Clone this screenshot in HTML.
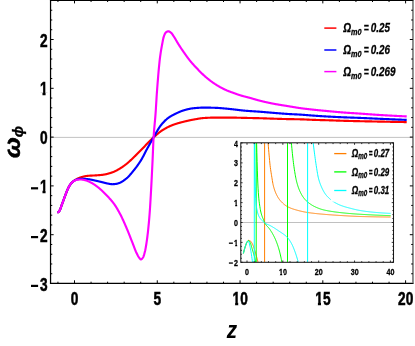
<!DOCTYPE html><html><head><meta charset="utf-8"><style>html,body{margin:0;padding:0;background:#fff}</style></head><body><svg width="415" height="346" viewBox="0 0 415 346" style="display:block;will-change:transform;font-family:'Liberation Sans',sans-serif">
<rect width="415" height="346" fill="#fff"/>
<line x1="50.55" x2="412.90" y1="137.4" y2="137.4" stroke="#b4b4b4" stroke-width="0.8"/>
<defs><clipPath id="cm"><rect x="50.55" y="0.30" width="362.35" height="283.10"/></clipPath><clipPath id="ci"><rect x="240.8" y="143" width="152.7" height="119.3"/></clipPath></defs>
<g clip-path="url(#cm)" fill="none" stroke-width="2.15" stroke-linejoin="round" stroke-linecap="butt">
<path d="M57.50,212.40L57.75,212.35L58.00,212.25L58.25,212.09L58.50,211.89L58.75,211.66L59.00,211.41L59.25,211.14L59.50,210.80L59.75,210.36L60.00,209.83L60.25,209.23L60.50,208.57L60.75,207.87L61.00,207.15L61.25,206.41L61.50,205.67L61.75,204.95L62.00,204.26L62.25,203.60L62.50,202.94L62.75,202.26L63.00,201.57L63.25,200.88L63.50,200.19L63.75,199.49L64.00,198.80L64.25,198.11L64.50,197.42L64.75,196.75L65.00,196.09L65.25,195.43L65.50,194.76L65.75,194.09L66.00,193.42L66.26,192.76L66.51,192.10L66.76,191.46L67.01,190.83L67.26,190.23L67.51,189.65L67.76,189.10L68.01,188.58L68.26,188.08L68.51,187.58L68.76,187.10L69.01,186.63L69.26,186.17L69.51,185.73L69.76,185.31L70.01,184.91L70.26,184.53L70.51,184.18L70.76,183.85L71.01,183.55L71.26,183.26L71.51,182.98L71.76,182.71L72.01,182.46L72.26,182.22L72.51,181.98L72.76,181.76L73.01,181.55L73.26,181.34L73.51,181.15L73.76,180.96L74.01,180.77L74.26,180.59L74.51,180.42L74.76,180.25L75.01,180.09L75.26,179.93L75.51,179.78L75.76,179.63L76.01,179.48L76.26,179.34L76.51,179.21L76.76,179.07L77.01,178.95L77.26,178.82L77.51,178.70L77.76,178.57L78.01,178.45L78.26,178.33L78.51,178.22L78.76,178.10L79.01,177.99L79.26,177.89L79.51,177.78L79.76,177.69L80.01,177.59L80.26,177.50L80.51,177.42L80.76,177.34L81.01,177.27L81.26,177.20L81.51,177.13L81.76,177.06L82.01,176.99L82.26,176.92L82.51,176.85L82.76,176.79L83.01,176.72L83.26,176.66L83.51,176.60L83.77,176.54L84.02,176.48L84.27,176.42L84.52,176.37L84.77,176.31L85.02,176.26L85.27,176.21L85.52,176.16L85.77,176.12L86.02,176.07L86.27,176.03L86.52,175.99L86.77,175.95L87.02,175.92L87.27,175.89L87.52,175.86L87.77,175.83L88.02,175.81L88.27,175.79L88.52,175.77L88.77,175.75L89.02,175.73L89.27,175.71L89.52,175.70L89.77,175.68L90.02,175.67L90.27,175.65L90.52,175.64L90.77,175.63L91.02,175.61L91.27,175.60L91.52,175.59L91.77,175.58L92.02,175.57L92.27,175.56L92.52,175.55L92.77,175.54L93.02,175.53L93.27,175.51L93.52,175.50L93.77,175.49L94.02,175.48L94.27,175.47L94.52,175.45L94.77,175.44L95.02,175.42L95.27,175.41L95.52,175.39L95.77,175.38L96.02,175.36L96.27,175.34L96.52,175.33L96.77,175.31L97.02,175.29L97.27,175.28L97.52,175.26L97.77,175.24L98.02,175.22L98.27,175.21L98.52,175.19L98.77,175.17L99.02,175.15L99.27,175.13L99.52,175.11L99.77,175.09L100.02,175.07L100.27,175.04L100.52,175.02L100.77,175.00L101.02,174.97L101.28,174.95L101.53,174.92L101.78,174.90L102.03,174.87L102.28,174.84L102.53,174.81L102.78,174.78L103.03,174.74L103.28,174.71L103.53,174.67L103.78,174.63L104.03,174.59L104.28,174.55L104.53,174.50L104.78,174.46L105.03,174.41L105.28,174.36L105.53,174.30L105.78,174.25L106.03,174.19L106.28,174.13L106.53,174.08L106.78,174.02L107.03,173.95L107.28,173.89L107.53,173.82L107.78,173.76L108.03,173.69L108.28,173.62L108.53,173.55L108.78,173.48L109.03,173.41L109.28,173.33L109.53,173.26L109.78,173.18L110.03,173.10L110.28,173.03L110.53,172.95L110.78,172.87L111.03,172.79L111.28,172.71L111.53,172.62L111.78,172.54L112.03,172.46L112.28,172.37L112.53,172.29L112.78,172.19L113.03,172.10L113.28,172.00L113.53,171.90L113.78,171.80L114.03,171.69L114.28,171.58L114.53,171.46L114.78,171.35L115.03,171.23L115.28,171.11L115.53,170.98L115.78,170.86L116.03,170.73L116.28,170.60L116.53,170.47L116.78,170.33L117.03,170.20L117.28,170.06L117.53,169.92L117.78,169.78L118.03,169.64L118.28,169.50L118.53,169.36L118.79,169.21L119.04,169.07L119.29,168.92L119.54,168.78L119.79,168.63L120.04,168.48L120.29,168.33L120.54,168.17L120.79,168.01L121.04,167.85L121.29,167.69L121.54,167.53L121.79,167.36L122.04,167.19L122.29,167.01L122.54,166.84L122.79,166.66L123.04,166.49L123.29,166.31L123.54,166.12L123.79,165.94L124.04,165.75L124.29,165.57L124.54,165.38L124.79,165.19L125.04,165.00L125.29,164.81L125.54,164.61L125.79,164.42L126.04,164.22L126.29,164.02L126.54,163.83L126.79,163.63L127.04,163.43L127.29,163.22L127.54,163.02L127.79,162.81L128.04,162.60L128.29,162.38L128.54,162.17L128.79,161.95L129.04,161.73L129.29,161.50L129.54,161.28L129.79,161.05L130.04,160.83L130.29,160.60L130.54,160.37L130.79,160.14L131.04,159.90L131.29,159.67L131.54,159.43L131.79,159.20L132.04,158.96L132.29,158.73L132.54,158.49L132.79,158.25L133.04,158.01L133.29,157.78L133.54,157.54L133.79,157.30L134.04,157.06L134.29,156.82L134.54,156.58L134.79,156.34L135.04,156.10L135.29,155.85L135.54,155.61L135.79,155.36L136.04,155.11L136.30,154.86L136.55,154.61L136.80,154.36L137.05,154.11L137.30,153.86L137.55,153.61L137.80,153.35L138.05,153.10L138.30,152.85L138.55,152.59L138.80,152.34L139.05,152.08L139.30,151.83L139.55,151.57L139.80,151.32L140.05,151.06L140.30,150.81L140.55,150.56L140.80,150.30L141.05,150.05L141.30,149.80L141.55,149.55L141.80,149.29L142.05,149.04L142.30,148.78L142.55,148.52L142.80,148.26L143.05,148.00L143.30,147.74L143.55,147.48L143.80,147.21L144.05,146.95L144.30,146.69L144.55,146.42L144.80,146.16L145.05,145.89L145.30,145.63L145.55,145.37L145.80,145.10L146.05,144.84L146.30,144.57L146.55,144.31L146.80,144.04L147.05,143.78L147.30,143.52L147.55,143.25L147.80,142.99L148.05,142.73L148.30,142.47L148.55,142.21L148.80,141.95L149.05,141.70L149.30,141.44L149.55,141.19L149.80,140.93L150.05,140.68L150.30,140.43L150.55,140.18L150.80,139.93L151.05,139.69L151.30,139.44L151.55,139.20L151.80,138.96L152.05,138.72L152.30,138.49L152.55,138.25L152.80,138.02L153.05,137.79L153.30,137.56L153.56,137.34L153.81,137.12L154.06,136.90L154.31,136.67L154.56,136.45L154.81,136.23L155.06,136.01L155.31,135.79L155.56,135.57L155.81,135.35L156.06,135.13L156.31,134.91L156.56,134.70L156.81,134.48L157.06,134.27L157.31,134.06L157.56,133.85L157.81,133.64L158.06,133.43L158.31,133.23L158.56,133.03L158.81,132.82L159.06,132.63L159.31,132.43L159.56,132.23L159.81,132.04L160.06,131.85L160.31,131.67L160.56,131.48L160.81,131.30L161.06,131.12L161.31,130.95L161.56,130.78L161.81,130.61L162.06,130.44L162.31,130.28L162.56,130.12L162.81,129.97L163.06,129.82L163.31,129.66L163.56,129.51L163.81,129.36L164.06,129.21L164.31,129.07L164.56,128.92L164.81,128.78L165.06,128.63L165.31,128.49L165.56,128.35L165.81,128.21L166.06,128.07L166.31,127.94L166.56,127.80L166.81,127.67L167.06,127.54L167.31,127.41L167.56,127.28L167.81,127.15L168.06,127.03L168.31,126.90L168.56,126.78L168.81,126.66L169.06,126.54L169.31,126.43L169.56,126.31L169.81,126.20L170.06,126.08L170.31,125.97L170.56,125.86L170.81,125.75L171.07,125.65L171.32,125.54L171.57,125.44L171.82,125.34L172.07,125.24L172.32,125.15L172.57,125.05L172.82,124.96L173.07,124.86L173.32,124.77L173.57,124.68L173.82,124.59L174.07,124.51L174.32,124.42L174.57,124.33L174.82,124.25L175.07,124.16L175.32,124.08L175.57,124.00L175.82,123.92L176.07,123.84L176.32,123.76L176.57,123.68L176.82,123.60L177.07,123.52L177.32,123.45L177.57,123.37L177.82,123.30L178.07,123.22L178.32,123.15L178.57,123.08L178.82,123.01L179.07,122.94L179.32,122.87L179.57,122.80L179.82,122.73L180.07,122.66L180.32,122.59L180.57,122.52L180.82,122.46L181.07,122.39L181.32,122.32L181.57,122.26L181.82,122.19L182.07,122.13L182.32,122.07L182.57,122.00L182.82,121.94L183.07,121.88L183.32,121.81L183.57,121.75L183.82,121.69L184.07,121.63L184.32,121.57L184.57,121.50L184.82,121.44L185.07,121.38L185.32,121.32L185.57,121.26L185.82,121.20L186.07,121.14L186.32,121.08L186.57,121.02L186.82,120.97L187.07,120.91L187.32,120.85L187.57,120.79L187.82,120.74L188.07,120.68L188.32,120.62L188.58,120.57L188.83,120.51L189.08,120.46L189.33,120.40L189.58,120.35L189.83,120.30L190.08,120.24L190.33,120.19L190.58,120.14L190.83,120.09L191.08,120.04L191.33,119.99L191.58,119.93L191.83,119.89L192.08,119.84L192.33,119.79L192.58,119.74L192.83,119.69L193.08,119.64L193.33,119.60L193.58,119.55L193.83,119.51L194.08,119.46L194.33,119.42L194.58,119.37L194.83,119.33L195.08,119.29L195.33,119.24L195.58,119.20L195.83,119.16L196.08,119.11L196.33,119.07L196.58,119.02L196.83,118.98L197.08,118.94L197.33,118.89L197.58,118.85L197.83,118.80L198.08,118.76L198.33,118.72L198.58,118.68L198.83,118.63L199.08,118.59L199.33,118.55L199.58,118.51L199.83,118.47L200.08,118.43L200.33,118.40L200.58,118.36L200.83,118.33L201.08,118.29L201.33,118.26L201.58,118.23L201.83,118.20L202.08,118.17L202.33,118.14L202.58,118.11L202.83,118.09L203.08,118.07L203.33,118.05L203.58,118.03L203.83,118.01L204.08,118.00L204.33,117.98L204.58,117.97L204.83,117.95L205.08,117.94L205.33,117.92L205.58,117.91L205.83,117.89L206.09,117.88L206.34,117.87L206.59,117.85L206.84,117.84L207.09,117.83L207.34,117.82L207.59,117.80L207.84,117.79L208.09,117.78L208.34,117.77L208.59,117.76L208.84,117.75L209.09,117.74L209.34,117.73L209.59,117.72L209.84,117.71L210.09,117.70L210.34,117.69L210.59,117.68L210.84,117.67L211.09,117.66L211.34,117.66L211.59,117.65L211.84,117.64L212.09,117.64L212.34,117.63L212.59,117.62L212.84,117.62L213.09,117.62L213.34,117.61L213.59,117.61L213.84,117.61L214.09,117.60L214.34,117.60L214.59,117.60L214.84,117.60L215.09,117.60L215.34,117.60L215.59,117.60L215.84,117.60L216.09,117.60L216.34,117.60L216.59,117.60L216.84,117.60L217.09,117.60L217.34,117.60L217.59,117.60L217.84,117.60L218.09,117.60L218.34,117.60L218.59,117.60L218.84,117.60L219.09,117.60L219.34,117.60L219.59,117.60L219.84,117.60L220.09,117.60L220.34,117.60L220.59,117.60L220.84,117.60L221.09,117.60L221.34,117.60L221.59,117.60L221.84,117.60L222.09,117.60L222.34,117.60L222.59,117.60L222.84,117.60L223.09,117.60L223.34,117.60L223.60,117.60L223.85,117.60L224.10,117.60L224.35,117.60L224.60,117.60L224.85,117.60L225.10,117.60L225.35,117.60L225.60,117.60L225.85,117.60L226.10,117.60L226.35,117.60L226.60,117.60L226.85,117.60L227.10,117.60L227.35,117.60L227.60,117.60L227.85,117.60L228.10,117.60L228.35,117.60L228.60,117.60L228.85,117.60L229.10,117.60L229.35,117.60L229.60,117.60L229.85,117.60L230.10,117.60L230.35,117.60L230.60,117.60L230.85,117.60L231.10,117.60L231.35,117.60L231.60,117.61L231.85,117.61L232.10,117.61L232.35,117.61L232.60,117.62L232.85,117.62L233.10,117.62L233.35,117.63L233.60,117.63L233.85,117.63L234.10,117.64L234.35,117.64L234.60,117.65L234.85,117.65L235.10,117.66L235.35,117.66L235.60,117.67L235.85,117.67L236.10,117.68L236.35,117.68L236.60,117.69L236.85,117.70L237.10,117.70L237.35,117.71L237.60,117.71L237.85,117.72L238.10,117.73L238.35,117.73L238.60,117.74L238.85,117.75L239.10,117.75L239.35,117.76L239.60,117.77L239.85,117.77L240.10,117.78L240.35,117.79L240.60,117.79L240.86,117.80L241.11,117.81L241.36,117.81L241.61,117.82L241.86,117.83L242.11,117.83L242.36,117.84L242.61,117.85L242.86,117.85L243.11,117.86L243.36,117.86L243.61,117.87L243.86,117.88L244.11,117.88L244.36,117.89L244.61,117.89L244.86,117.90L245.11,117.90L245.36,117.91L245.61,117.91L245.86,117.92L246.11,117.92L246.36,117.93L246.61,117.93L246.86,117.94L247.11,117.94L247.36,117.95L247.61,117.95L247.86,117.96L248.11,117.96L248.36,117.97L248.61,117.97L248.86,117.98L249.11,117.98L249.36,117.98L249.61,117.99L249.86,117.99L250.11,118.00L250.36,118.00L250.61,118.01L250.86,118.01L251.11,118.02L251.36,118.02L251.61,118.03L251.86,118.03L252.11,118.04L252.36,118.04L252.61,118.05L252.86,118.05L253.11,118.06L253.36,118.06L253.61,118.07L253.86,118.07L254.11,118.08L254.36,118.08L254.61,118.09L254.86,118.09L255.11,118.10L255.36,118.10L255.61,118.11L255.86,118.11L256.11,118.12L256.36,118.12L256.61,118.13L256.86,118.14L257.11,118.14L257.36,118.15L257.61,118.15L257.86,118.16L258.11,118.17L258.37,118.17L258.62,118.18L258.87,118.18L259.12,118.19L259.37,118.20L259.62,118.20L259.87,118.21L260.12,118.22L260.37,118.22L260.62,118.23L260.87,118.24L261.12,118.25L261.37,118.25L261.62,118.26L261.87,118.27L262.12,118.28L262.37,118.29L262.62,118.29L262.87,118.30L263.12,118.31L263.37,118.32L263.62,118.33L263.87,118.34L264.12,118.35L264.37,118.35L264.62,118.36L264.87,118.37L265.12,118.38L265.37,118.39L265.62,118.40L265.87,118.41L266.12,118.42L266.37,118.43L266.62,118.44L266.87,118.45L267.12,118.46L267.37,118.47L267.62,118.48L267.87,118.49L268.12,118.50L268.37,118.50L268.62,118.51L268.87,118.52L269.12,118.53L269.37,118.54L269.62,118.55L269.87,118.56L270.12,118.57L270.37,118.58L270.62,118.59L270.87,118.60L271.12,118.61L271.37,118.62L271.62,118.62L271.87,118.63L272.12,118.64L272.37,118.65L272.62,118.66L272.87,118.67L273.12,118.68L273.37,118.68L273.62,118.69L273.87,118.70L274.12,118.71L274.37,118.71L274.62,118.72L274.87,118.73L275.12,118.74L275.37,118.75L275.62,118.75L275.88,118.76L276.13,118.77L276.38,118.78L276.63,118.78L276.88,118.79L277.13,118.80L277.38,118.81L277.63,118.81L277.88,118.82L278.13,118.83L278.38,118.84L278.63,118.84L278.88,118.85L279.13,118.86L279.38,118.87L279.63,118.87L279.88,118.88L280.13,118.89L280.38,118.90L280.63,118.90L280.88,118.91L281.13,118.92L281.38,118.92L281.63,118.93L281.88,118.94L282.13,118.95L282.38,118.95L282.63,118.96L282.88,118.97L283.13,118.97L283.38,118.98L283.63,118.99L283.88,118.99L284.13,119.00L284.38,119.01L284.63,119.01L284.88,119.02L285.13,119.02L285.38,119.03L285.63,119.04L285.88,119.04L286.13,119.05L286.38,119.05L286.63,119.06L286.88,119.07L287.13,119.07L287.38,119.08L287.63,119.08L287.88,119.09L288.13,119.09L288.38,119.10L288.63,119.10L288.88,119.11L289.13,119.11L289.38,119.12L289.63,119.12L289.88,119.13L290.13,119.13L290.38,119.14L290.63,119.14L290.88,119.15L291.13,119.15L291.38,119.15L291.63,119.16L291.88,119.16L292.13,119.17L292.38,119.17L292.63,119.17L292.88,119.18L293.13,119.18L293.39,119.18L293.64,119.19L293.89,119.19L294.14,119.19L294.39,119.20L294.64,119.20L294.89,119.21L295.14,119.21L295.39,119.21L295.64,119.22L295.89,119.22L296.14,119.23L296.39,119.23L296.64,119.23L296.89,119.24L297.14,119.24L297.39,119.25L297.64,119.25L297.89,119.26L298.14,119.26L298.39,119.26L298.64,119.27L298.89,119.28L299.14,119.28L299.39,119.29L299.64,119.29L299.89,119.30L300.14,119.30L300.39,119.31L300.64,119.32L300.89,119.32L301.14,119.33L301.39,119.34L301.64,119.35L301.89,119.36L302.14,119.36L302.39,119.37L302.64,119.38L302.89,119.39L303.14,119.40L303.39,119.41L303.64,119.42L303.89,119.43L304.14,119.44L304.39,119.45L304.64,119.46L304.89,119.47L305.14,119.49L305.39,119.50L305.64,119.51L305.89,119.52L306.14,119.53L306.39,119.54L306.64,119.55L306.89,119.57L307.14,119.58L307.39,119.59L307.64,119.60L307.89,119.61L308.14,119.63L308.39,119.64L308.64,119.65L308.89,119.66L309.14,119.67L309.39,119.69L309.64,119.70L309.89,119.71L310.14,119.72L310.39,119.73L310.64,119.74L310.90,119.76L311.15,119.77L311.40,119.78L311.65,119.79L311.90,119.80L312.15,119.81L312.40,119.82L312.65,119.83L312.90,119.84L313.15,119.85L313.40,119.86L313.65,119.87L313.90,119.88L314.15,119.89L314.40,119.90L314.65,119.90L314.90,119.91L315.15,119.92L315.40,119.93L315.65,119.94L315.90,119.94L316.15,119.95L316.40,119.96L316.65,119.97L316.90,119.97L317.15,119.98L317.40,119.99L317.65,120.00L317.90,120.00L318.15,120.01L318.40,120.02L318.65,120.02L318.90,120.03L319.15,120.04L319.40,120.04L319.65,120.05L319.90,120.06L320.15,120.06L320.40,120.07L320.65,120.08L320.90,120.08L321.15,120.09L321.40,120.10L321.65,120.10L321.90,120.11L322.15,120.12L322.40,120.12L322.65,120.13L322.90,120.14L323.15,120.14L323.40,120.15L323.65,120.15L323.90,120.16L324.15,120.17L324.40,120.17L324.65,120.18L324.90,120.19L325.15,120.19L325.40,120.20L325.65,120.21L325.90,120.21L326.15,120.22L326.40,120.23L326.65,120.23L326.90,120.24L327.15,120.25L327.40,120.26L327.65,120.26L327.90,120.27L328.16,120.28L328.41,120.28L328.66,120.29L328.91,120.30L329.16,120.31L329.41,120.32L329.66,120.32L329.91,120.33L330.16,120.34L330.41,120.35L330.66,120.36L330.91,120.37L331.16,120.37L331.41,120.38L331.66,120.39L331.91,120.40L332.16,120.41L332.41,120.42L332.66,120.43L332.91,120.44L333.16,120.44L333.41,120.45L333.66,120.46L333.91,120.47L334.16,120.48L334.41,120.49L334.66,120.50L334.91,120.51L335.16,120.52L335.41,120.53L335.66,120.54L335.91,120.55L336.16,120.55L336.41,120.56L336.66,120.57L336.91,120.58L337.16,120.59L337.41,120.60L337.66,120.61L337.91,120.62L338.16,120.63L338.41,120.64L338.66,120.65L338.91,120.65L339.16,120.66L339.41,120.67L339.66,120.68L339.91,120.69L340.16,120.70L340.41,120.71L340.66,120.71L340.91,120.72L341.16,120.73L341.41,120.74L341.66,120.75L341.91,120.76L342.16,120.76L342.41,120.77L342.66,120.78L342.91,120.79L343.16,120.79L343.41,120.80L343.66,120.81L343.91,120.81L344.16,120.82L344.41,120.83L344.66,120.84L344.91,120.84L345.16,120.85L345.41,120.86L345.67,120.86L345.92,120.87L346.17,120.88L346.42,120.88L346.67,120.89L346.92,120.90L347.17,120.90L347.42,120.91L347.67,120.91L347.92,120.92L348.17,120.93L348.42,120.93L348.67,120.94L348.92,120.95L349.17,120.95L349.42,120.96L349.67,120.96L349.92,120.97L350.17,120.98L350.42,120.98L350.67,120.99L350.92,121.00L351.17,121.00L351.42,121.01L351.67,121.01L351.92,121.02L352.17,121.02L352.42,121.03L352.67,121.04L352.92,121.04L353.17,121.05L353.42,121.05L353.67,121.06L353.92,121.06L354.17,121.07L354.42,121.08L354.67,121.08L354.92,121.09L355.17,121.09L355.42,121.10L355.67,121.10L355.92,121.11L356.17,121.12L356.42,121.12L356.67,121.13L356.92,121.13L357.17,121.14L357.42,121.14L357.67,121.15L357.92,121.15L358.17,121.16L358.42,121.17L358.67,121.17L358.92,121.18L359.17,121.18L359.42,121.19L359.67,121.19L359.92,121.20L360.17,121.20L360.42,121.21L360.67,121.21L360.92,121.22L361.17,121.23L361.42,121.23L361.67,121.24L361.92,121.24L362.17,121.25L362.42,121.25L362.67,121.26L362.92,121.26L363.18,121.27L363.43,121.27L363.68,121.28L363.93,121.28L364.18,121.29L364.43,121.29L364.68,121.30L364.93,121.30L365.18,121.31L365.43,121.31L365.68,121.32L365.93,121.32L366.18,121.33L366.43,121.34L366.68,121.34L366.93,121.35L367.18,121.35L367.43,121.36L367.68,121.36L367.93,121.37L368.18,121.37L368.43,121.38L368.68,121.38L368.93,121.39L369.18,121.39L369.43,121.40L369.68,121.40L369.93,121.40L370.18,121.41L370.43,121.41L370.68,121.42L370.93,121.42L371.18,121.43L371.43,121.43L371.68,121.44L371.93,121.44L372.18,121.45L372.43,121.45L372.68,121.46L372.93,121.46L373.18,121.47L373.43,121.47L373.68,121.48L373.93,121.48L374.18,121.49L374.43,121.49L374.68,121.50L374.93,121.50L375.18,121.51L375.43,121.51L375.68,121.52L375.93,121.52L376.18,121.53L376.43,121.53L376.68,121.54L376.93,121.54L377.18,121.55L377.43,121.55L377.68,121.56L377.93,121.56L378.18,121.56L378.43,121.57L378.68,121.57L378.93,121.58L379.18,121.58L379.43,121.59L379.68,121.59L379.93,121.60L380.18,121.60L380.43,121.61L380.69,121.61L380.94,121.62L381.19,121.62L381.44,121.63L381.69,121.63L381.94,121.64L382.19,121.64L382.44,121.65L382.69,121.65L382.94,121.66L383.19,121.66L383.44,121.67L383.69,121.67L383.94,121.68L384.19,121.68L384.44,121.69L384.69,121.69L384.94,121.70L385.19,121.70L385.44,121.70L385.69,121.71L385.94,121.71L386.19,121.72L386.44,121.72L386.69,121.73L386.94,121.73L387.19,121.74L387.44,121.74L387.69,121.75L387.94,121.75L388.19,121.76L388.44,121.76L388.69,121.77L388.94,121.77L389.19,121.78L389.44,121.78L389.69,121.79L389.94,121.79L390.19,121.80L390.44,121.80L390.69,121.80L390.94,121.81L391.19,121.81L391.44,121.82L391.69,121.82L391.94,121.83L392.19,121.83L392.44,121.84L392.69,121.84L392.94,121.85L393.19,121.85L393.44,121.86L393.69,121.86L393.94,121.87L394.19,121.87L394.44,121.88L394.69,121.88L394.94,121.88L395.19,121.89L395.44,121.89L395.69,121.90L395.94,121.90L396.19,121.91L396.44,121.91L396.69,121.92L396.94,121.92L397.19,121.93L397.44,121.93L397.69,121.94L397.94,121.94L398.20,121.94L398.45,121.95L398.70,121.95L398.95,121.96L399.20,121.96L399.45,121.97L399.70,121.97L399.95,121.98L400.20,121.98L400.45,121.99L400.70,121.99L400.95,122.00L401.20,122.00L401.45,122.00L401.70,122.01L401.95,122.01L402.20,122.02L402.45,122.02L402.70,122.03L402.95,122.03L403.20,122.04L403.45,122.04L403.70,122.05L403.95,122.05L404.20,122.05L404.45,122.06L404.70,122.06L404.95,122.07L405.20,122.07L405.45,122.08L405.70,122.08L405.95,122.09L406.20,122.09L406.45,122.10L406.70,122.10" stroke="#f00"/>
<path d="M57.50,212.40L57.75,212.35L58.00,212.25L58.25,212.09L58.50,211.89L58.75,211.66L59.00,211.41L59.25,211.14L59.50,210.80L59.75,210.36L60.00,209.83L60.25,209.23L60.50,208.57L60.75,207.87L61.00,207.15L61.25,206.41L61.50,205.67L61.75,204.95L62.00,204.26L62.25,203.60L62.50,202.94L62.75,202.26L63.00,201.57L63.25,200.88L63.50,200.19L63.75,199.49L64.00,198.80L64.25,198.11L64.50,197.42L64.75,196.75L65.00,196.09L65.25,195.43L65.50,194.76L65.75,194.09L66.00,193.42L66.26,192.76L66.51,192.10L66.76,191.46L67.01,190.83L67.26,190.23L67.51,189.65L67.76,189.10L68.01,188.58L68.26,188.08L68.51,187.58L68.76,187.09L69.01,186.62L69.26,186.16L69.51,185.72L69.76,185.30L70.01,184.90L70.26,184.52L70.51,184.17L70.76,183.85L71.01,183.55L71.26,183.27L71.51,182.99L71.76,182.73L72.01,182.48L72.26,182.24L72.51,182.02L72.76,181.80L73.01,181.60L73.26,181.41L73.51,181.23L73.76,181.06L74.01,180.90L74.26,180.74L74.51,180.58L74.76,180.43L75.01,180.29L75.26,180.15L75.51,180.01L75.76,179.88L76.01,179.77L76.26,179.65L76.51,179.55L76.76,179.46L77.01,179.38L77.26,179.31L77.51,179.25L77.76,179.19L78.01,179.12L78.26,179.07L78.51,179.01L78.76,178.95L79.01,178.90L79.26,178.86L79.51,178.82L79.76,178.78L80.01,178.75L80.26,178.73L80.51,178.71L80.76,178.70L81.01,178.70L81.26,178.70L81.51,178.71L81.76,178.71L82.01,178.72L82.26,178.73L82.51,178.74L82.76,178.75L83.01,178.76L83.26,178.77L83.51,178.79L83.77,178.80L84.02,178.82L84.27,178.84L84.52,178.86L84.77,178.88L85.02,178.90L85.27,178.92L85.52,178.94L85.77,178.97L86.02,178.99L86.27,179.02L86.52,179.04L86.77,179.06L87.02,179.09L87.27,179.12L87.52,179.14L87.77,179.17L88.02,179.19L88.27,179.22L88.52,179.25L88.77,179.28L89.02,179.31L89.27,179.35L89.52,179.38L89.77,179.42L90.02,179.47L90.27,179.51L90.52,179.56L90.77,179.60L91.02,179.65L91.27,179.70L91.52,179.75L91.77,179.80L92.02,179.86L92.27,179.91L92.52,179.96L92.77,180.02L93.02,180.08L93.27,180.13L93.52,180.19L93.77,180.24L94.02,180.30L94.27,180.35L94.52,180.41L94.77,180.46L95.02,180.52L95.27,180.57L95.52,180.63L95.77,180.68L96.02,180.73L96.27,180.79L96.52,180.85L96.77,180.90L97.02,180.96L97.27,181.02L97.52,181.07L97.77,181.13L98.02,181.19L98.27,181.25L98.52,181.31L98.77,181.37L99.02,181.43L99.27,181.49L99.52,181.55L99.77,181.61L100.02,181.67L100.27,181.74L100.52,181.80L100.77,181.86L101.02,181.92L101.28,181.98L101.53,182.04L101.78,182.10L102.03,182.16L102.28,182.22L102.53,182.28L102.78,182.34L103.03,182.40L103.28,182.47L103.53,182.53L103.78,182.59L104.03,182.66L104.28,182.72L104.53,182.79L104.78,182.86L105.03,182.92L105.28,182.99L105.53,183.05L105.78,183.11L106.03,183.17L106.28,183.24L106.53,183.29L106.78,183.35L107.03,183.41L107.28,183.46L107.53,183.51L107.78,183.56L108.03,183.61L108.28,183.65L108.53,183.70L108.78,183.75L109.03,183.79L109.28,183.84L109.53,183.89L109.78,183.94L110.03,183.98L110.28,184.02L110.53,184.06L110.78,184.10L111.03,184.13L111.28,184.15L111.53,184.18L111.78,184.19L112.03,184.20L112.28,184.20L112.53,184.20L112.78,184.19L113.03,184.18L113.28,184.17L113.53,184.15L113.78,184.14L114.03,184.12L114.28,184.09L114.53,184.07L114.78,184.04L115.03,184.02L115.28,183.99L115.53,183.96L115.78,183.93L116.03,183.90L116.28,183.86L116.53,183.82L116.78,183.76L117.03,183.71L117.28,183.64L117.53,183.58L117.78,183.50L118.03,183.42L118.28,183.34L118.53,183.25L118.79,183.17L119.04,183.07L119.29,182.98L119.54,182.89L119.79,182.79L120.04,182.68L120.29,182.57L120.54,182.45L120.79,182.33L121.04,182.20L121.29,182.07L121.54,181.93L121.79,181.78L122.04,181.63L122.29,181.48L122.54,181.32L122.79,181.16L123.04,180.99L123.29,180.82L123.54,180.65L123.79,180.47L124.04,180.29L124.29,180.10L124.54,179.91L124.79,179.72L125.04,179.53L125.29,179.34L125.54,179.14L125.79,178.94L126.04,178.74L126.29,178.54L126.54,178.33L126.79,178.13L127.04,177.91L127.29,177.69L127.54,177.47L127.79,177.23L128.04,176.99L128.29,176.75L128.54,176.49L128.79,176.24L129.04,175.97L129.29,175.70L129.54,175.43L129.79,175.15L130.04,174.87L130.29,174.59L130.54,174.30L130.79,174.00L131.04,173.71L131.29,173.41L131.54,173.11L131.79,172.80L132.04,172.50L132.29,172.19L132.54,171.88L132.79,171.57L133.04,171.26L133.29,170.95L133.54,170.64L133.79,170.33L134.04,170.02L134.29,169.71L134.54,169.39L134.79,169.08L135.04,168.76L135.29,168.44L135.54,168.11L135.79,167.79L136.04,167.46L136.30,167.13L136.55,166.79L136.80,166.45L137.05,166.11L137.30,165.77L137.55,165.42L137.80,165.07L138.05,164.72L138.30,164.36L138.55,164.00L138.80,163.64L139.05,163.27L139.30,162.90L139.55,162.52L139.80,162.14L140.05,161.76L140.30,161.37L140.55,160.98L140.80,160.58L141.05,160.18L141.30,159.78L141.55,159.36L141.80,158.93L142.05,158.49L142.30,158.04L142.55,157.58L142.80,157.11L143.05,156.64L143.30,156.16L143.55,155.68L143.80,155.20L144.05,154.71L144.30,154.22L144.55,153.73L144.80,153.24L145.05,152.75L145.30,152.26L145.55,151.77L145.80,151.29L146.05,150.81L146.30,150.34L146.55,149.87L146.80,149.42L147.05,148.96L147.30,148.50L147.55,148.04L147.80,147.59L148.05,147.13L148.30,146.68L148.55,146.23L148.80,145.77L149.05,145.32L149.30,144.87L149.55,144.42L149.80,143.97L150.05,143.52L150.30,143.07L150.55,142.63L150.80,142.18L151.05,141.74L151.30,141.29L151.55,140.85L151.80,140.41L152.05,139.97L152.30,139.54L152.55,139.10L152.80,138.67L153.05,138.24L153.30,137.81L153.56,137.38L153.81,136.95L154.06,136.51L154.31,136.08L154.56,135.64L154.81,135.20L155.06,134.75L155.31,134.31L155.56,133.86L155.81,133.42L156.06,132.97L156.31,132.53L156.56,132.09L156.81,131.65L157.06,131.21L157.31,130.77L157.56,130.34L157.81,129.92L158.06,129.50L158.31,129.08L158.56,128.67L158.81,128.27L159.06,127.88L159.31,127.49L159.56,127.11L159.81,126.74L160.06,126.38L160.31,126.03L160.56,125.69L160.81,125.37L161.06,125.05L161.31,124.74L161.56,124.44L161.81,124.14L162.06,123.85L162.31,123.56L162.56,123.27L162.81,122.99L163.06,122.71L163.31,122.43L163.56,122.16L163.81,121.90L164.06,121.64L164.31,121.38L164.56,121.12L164.81,120.87L165.06,120.63L165.31,120.39L165.56,120.15L165.81,119.92L166.06,119.70L166.31,119.47L166.56,119.26L166.81,119.04L167.06,118.83L167.31,118.63L167.56,118.43L167.81,118.24L168.06,118.05L168.31,117.86L168.56,117.68L168.81,117.51L169.06,117.33L169.31,117.17L169.56,117.00L169.81,116.84L170.06,116.68L170.31,116.52L170.56,116.37L170.81,116.22L171.07,116.07L171.32,115.92L171.57,115.78L171.82,115.64L172.07,115.50L172.32,115.37L172.57,115.23L172.82,115.10L173.07,114.97L173.32,114.84L173.57,114.71L173.82,114.58L174.07,114.46L174.32,114.33L174.57,114.21L174.82,114.08L175.07,113.96L175.32,113.84L175.57,113.72L175.82,113.59L176.07,113.47L176.32,113.35L176.57,113.23L176.82,113.11L177.07,112.99L177.32,112.87L177.57,112.75L177.82,112.63L178.07,112.52L178.32,112.40L178.57,112.29L178.82,112.17L179.07,112.06L179.32,111.95L179.57,111.84L179.82,111.73L180.07,111.63L180.32,111.53L180.57,111.42L180.82,111.33L181.07,111.23L181.32,111.13L181.57,111.04L181.82,110.95L182.07,110.87L182.32,110.78L182.57,110.70L182.82,110.62L183.07,110.55L183.32,110.47L183.57,110.40L183.82,110.32L184.07,110.25L184.32,110.18L184.57,110.10L184.82,110.03L185.07,109.96L185.32,109.89L185.57,109.82L185.82,109.75L186.07,109.68L186.32,109.61L186.57,109.55L186.82,109.48L187.07,109.41L187.32,109.35L187.57,109.29L187.82,109.23L188.07,109.17L188.32,109.11L188.58,109.05L188.83,108.99L189.08,108.94L189.33,108.88L189.58,108.83L189.83,108.78L190.08,108.73L190.33,108.69L190.58,108.64L190.83,108.60L191.08,108.56L191.33,108.52L191.58,108.48L191.83,108.44L192.08,108.41L192.33,108.38L192.58,108.35L192.83,108.32L193.08,108.29L193.33,108.27L193.58,108.24L193.83,108.22L194.08,108.19L194.33,108.17L194.58,108.14L194.83,108.12L195.08,108.10L195.33,108.07L195.58,108.05L195.83,108.03L196.08,108.01L196.33,107.98L196.58,107.96L196.83,107.94L197.08,107.92L197.33,107.90L197.58,107.88L197.83,107.86L198.08,107.84L198.33,107.82L198.58,107.81L198.83,107.79L199.08,107.77L199.33,107.76L199.58,107.74L199.83,107.73L200.08,107.71L200.33,107.70L200.58,107.69L200.83,107.68L201.08,107.66L201.33,107.65L201.58,107.64L201.83,107.64L202.08,107.63L202.33,107.62L202.58,107.62L202.83,107.61L203.08,107.61L203.33,107.60L203.58,107.60L203.83,107.60L204.08,107.60L204.33,107.60L204.58,107.60L204.83,107.60L205.08,107.60L205.33,107.60L205.58,107.61L205.83,107.61L206.09,107.61L206.34,107.61L206.59,107.61L206.84,107.62L207.09,107.62L207.34,107.62L207.59,107.63L207.84,107.63L208.09,107.63L208.34,107.64L208.59,107.64L208.84,107.65L209.09,107.65L209.34,107.66L209.59,107.66L209.84,107.67L210.09,107.67L210.34,107.68L210.59,107.68L210.84,107.69L211.09,107.70L211.34,107.70L211.59,107.71L211.84,107.71L212.09,107.72L212.34,107.73L212.59,107.73L212.84,107.74L213.09,107.75L213.34,107.75L213.59,107.76L213.84,107.77L214.09,107.77L214.34,107.78L214.59,107.79L214.84,107.80L215.09,107.80L215.34,107.81L215.59,107.82L215.84,107.83L216.09,107.84L216.34,107.85L216.59,107.86L216.84,107.87L217.09,107.88L217.34,107.90L217.59,107.91L217.84,107.93L218.09,107.94L218.34,107.96L218.59,107.97L218.84,107.99L219.09,108.01L219.34,108.02L219.59,108.04L219.84,108.06L220.09,108.08L220.34,108.10L220.59,108.12L220.84,108.14L221.09,108.16L221.34,108.18L221.59,108.20L221.84,108.22L222.09,108.24L222.34,108.26L222.59,108.29L222.84,108.31L223.09,108.33L223.34,108.35L223.60,108.38L223.85,108.40L224.10,108.43L224.35,108.45L224.60,108.47L224.85,108.50L225.10,108.52L225.35,108.55L225.60,108.57L225.85,108.60L226.10,108.62L226.35,108.64L226.60,108.67L226.85,108.69L227.10,108.72L227.35,108.74L227.60,108.77L227.85,108.79L228.10,108.82L228.35,108.84L228.60,108.87L228.85,108.89L229.10,108.91L229.35,108.94L229.60,108.96L229.85,108.99L230.10,109.01L230.35,109.03L230.60,109.06L230.85,109.08L231.10,109.11L231.35,109.13L231.60,109.16L231.85,109.19L232.10,109.21L232.35,109.24L232.60,109.27L232.85,109.30L233.10,109.33L233.35,109.36L233.60,109.39L233.85,109.42L234.10,109.45L234.35,109.48L234.60,109.51L234.85,109.54L235.10,109.57L235.35,109.60L235.60,109.63L235.85,109.66L236.10,109.69L236.35,109.72L236.60,109.75L236.85,109.78L237.10,109.82L237.35,109.85L237.60,109.88L237.85,109.91L238.10,109.94L238.35,109.97L238.60,110.00L238.85,110.03L239.10,110.06L239.35,110.10L239.60,110.13L239.85,110.16L240.10,110.19L240.35,110.22L240.60,110.24L240.86,110.27L241.11,110.30L241.36,110.33L241.61,110.36L241.86,110.39L242.11,110.42L242.36,110.44L242.61,110.47L242.86,110.50L243.11,110.52L243.36,110.55L243.61,110.57L243.86,110.60L244.11,110.62L244.36,110.64L244.61,110.67L244.86,110.69L245.11,110.71L245.36,110.73L245.61,110.75L245.86,110.77L246.11,110.79L246.36,110.81L246.61,110.83L246.86,110.85L247.11,110.87L247.36,110.89L247.61,110.91L247.86,110.92L248.11,110.94L248.36,110.96L248.61,110.98L248.86,111.00L249.11,111.01L249.36,111.03L249.61,111.05L249.86,111.06L250.11,111.08L250.36,111.10L250.61,111.11L250.86,111.13L251.11,111.15L251.36,111.16L251.61,111.18L251.86,111.19L252.11,111.21L252.36,111.23L252.61,111.24L252.86,111.26L253.11,111.27L253.36,111.29L253.61,111.30L253.86,111.32L254.11,111.34L254.36,111.35L254.61,111.37L254.86,111.38L255.11,111.40L255.36,111.42L255.61,111.43L255.86,111.45L256.11,111.46L256.36,111.48L256.61,111.50L256.86,111.51L257.11,111.53L257.36,111.55L257.61,111.56L257.86,111.58L258.11,111.60L258.37,111.62L258.62,111.63L258.87,111.65L259.12,111.67L259.37,111.69L259.62,111.71L259.87,111.73L260.12,111.75L260.37,111.77L260.62,111.79L260.87,111.81L261.12,111.83L261.37,111.85L261.62,111.87L261.87,111.89L262.12,111.91L262.37,111.93L262.62,111.95L262.87,111.97L263.12,111.99L263.37,112.01L263.62,112.03L263.87,112.05L264.12,112.07L264.37,112.09L264.62,112.11L264.87,112.14L265.12,112.16L265.37,112.18L265.62,112.20L265.87,112.22L266.12,112.24L266.37,112.26L266.62,112.29L266.87,112.31L267.12,112.33L267.37,112.35L267.62,112.37L267.87,112.39L268.12,112.42L268.37,112.44L268.62,112.46L268.87,112.48L269.12,112.50L269.37,112.52L269.62,112.54L269.87,112.57L270.12,112.59L270.37,112.61L270.62,112.63L270.87,112.65L271.12,112.67L271.37,112.69L271.62,112.71L271.87,112.73L272.12,112.76L272.37,112.78L272.62,112.80L272.87,112.82L273.12,112.84L273.37,112.86L273.62,112.88L273.87,112.90L274.12,112.92L274.37,112.94L274.62,112.96L274.87,112.98L275.12,113.00L275.37,113.02L275.62,113.04L275.88,113.06L276.13,113.08L276.38,113.10L276.63,113.12L276.88,113.14L277.13,113.16L277.38,113.18L277.63,113.20L277.88,113.22L278.13,113.24L278.38,113.26L278.63,113.28L278.88,113.30L279.13,113.32L279.38,113.34L279.63,113.36L279.88,113.38L280.13,113.40L280.38,113.42L280.63,113.44L280.88,113.46L281.13,113.48L281.38,113.50L281.63,113.52L281.88,113.54L282.13,113.56L282.38,113.58L282.63,113.60L282.88,113.62L283.13,113.64L283.38,113.65L283.63,113.67L283.88,113.69L284.13,113.71L284.38,113.73L284.63,113.75L284.88,113.77L285.13,113.78L285.38,113.80L285.63,113.82L285.88,113.84L286.13,113.85L286.38,113.87L286.63,113.89L286.88,113.90L287.13,113.92L287.38,113.94L287.63,113.95L287.88,113.97L288.13,113.98L288.38,114.00L288.63,114.01L288.88,114.03L289.13,114.04L289.38,114.06L289.63,114.07L289.88,114.09L290.13,114.10L290.38,114.11L290.63,114.13L290.88,114.14L291.13,114.15L291.38,114.16L291.63,114.18L291.88,114.19L292.13,114.20L292.38,114.21L292.63,114.23L292.88,114.24L293.13,114.25L293.39,114.26L293.64,114.27L293.89,114.29L294.14,114.30L294.39,114.31L294.64,114.32L294.89,114.33L295.14,114.34L295.39,114.36L295.64,114.37L295.89,114.38L296.14,114.39L296.39,114.40L296.64,114.42L296.89,114.43L297.14,114.44L297.39,114.45L297.64,114.47L297.89,114.48L298.14,114.49L298.39,114.51L298.64,114.52L298.89,114.53L299.14,114.55L299.39,114.56L299.64,114.58L299.89,114.59L300.14,114.61L300.39,114.62L300.64,114.64L300.89,114.66L301.14,114.67L301.39,114.69L301.64,114.71L301.89,114.72L302.14,114.74L302.39,114.76L302.64,114.78L302.89,114.80L303.14,114.81L303.39,114.83L303.64,114.85L303.89,114.87L304.14,114.89L304.39,114.91L304.64,114.93L304.89,114.95L305.14,114.97L305.39,114.99L305.64,115.01L305.89,115.03L306.14,115.05L306.39,115.07L306.64,115.09L306.89,115.11L307.14,115.13L307.39,115.15L307.64,115.17L307.89,115.19L308.14,115.21L308.39,115.23L308.64,115.25L308.89,115.27L309.14,115.29L309.39,115.31L309.64,115.33L309.89,115.35L310.14,115.37L310.39,115.39L310.64,115.41L310.90,115.43L311.15,115.45L311.40,115.47L311.65,115.49L311.90,115.51L312.15,115.53L312.40,115.55L312.65,115.57L312.90,115.59L313.15,115.60L313.40,115.62L313.65,115.64L313.90,115.66L314.15,115.68L314.40,115.69L314.65,115.71L314.90,115.73L315.15,115.74L315.40,115.76L315.65,115.78L315.90,115.80L316.15,115.81L316.40,115.83L316.65,115.85L316.90,115.86L317.15,115.88L317.40,115.90L317.65,115.91L317.90,115.93L318.15,115.95L318.40,115.96L318.65,115.98L318.90,116.00L319.15,116.01L319.40,116.03L319.65,116.04L319.90,116.06L320.15,116.08L320.40,116.09L320.65,116.11L320.90,116.12L321.15,116.14L321.40,116.16L321.65,116.17L321.90,116.19L322.15,116.20L322.40,116.22L322.65,116.23L322.90,116.25L323.15,116.27L323.40,116.28L323.65,116.30L323.90,116.31L324.15,116.33L324.40,116.34L324.65,116.36L324.90,116.37L325.15,116.39L325.40,116.40L325.65,116.42L325.90,116.43L326.15,116.45L326.40,116.46L326.65,116.47L326.90,116.49L327.15,116.50L327.40,116.52L327.65,116.53L327.90,116.55L328.16,116.56L328.41,116.57L328.66,116.59L328.91,116.60L329.16,116.61L329.41,116.63L329.66,116.64L329.91,116.65L330.16,116.67L330.41,116.68L330.66,116.69L330.91,116.71L331.16,116.72L331.41,116.73L331.66,116.75L331.91,116.76L332.16,116.77L332.41,116.79L332.66,116.80L332.91,116.81L333.16,116.82L333.41,116.84L333.66,116.85L333.91,116.86L334.16,116.88L334.41,116.89L334.66,116.90L334.91,116.91L335.16,116.93L335.41,116.94L335.66,116.95L335.91,116.96L336.16,116.97L336.41,116.99L336.66,117.00L336.91,117.01L337.16,117.02L337.41,117.03L337.66,117.05L337.91,117.06L338.16,117.07L338.41,117.08L338.66,117.09L338.91,117.10L339.16,117.12L339.41,117.13L339.66,117.14L339.91,117.15L340.16,117.16L340.41,117.17L340.66,117.18L340.91,117.19L341.16,117.20L341.41,117.22L341.66,117.23L341.91,117.24L342.16,117.25L342.41,117.26L342.66,117.27L342.91,117.28L343.16,117.29L343.41,117.30L343.66,117.31L343.91,117.32L344.16,117.33L344.41,117.34L344.66,117.35L344.91,117.36L345.16,117.37L345.41,117.38L345.67,117.39L345.92,117.40L346.17,117.41L346.42,117.42L346.67,117.43L346.92,117.44L347.17,117.45L347.42,117.45L347.67,117.46L347.92,117.47L348.17,117.48L348.42,117.49L348.67,117.50L348.92,117.51L349.17,117.52L349.42,117.53L349.67,117.53L349.92,117.54L350.17,117.55L350.42,117.56L350.67,117.57L350.92,117.58L351.17,117.59L351.42,117.59L351.67,117.60L351.92,117.61L352.17,117.62L352.42,117.63L352.67,117.64L352.92,117.64L353.17,117.65L353.42,117.66L353.67,117.67L353.92,117.68L354.17,117.69L354.42,117.70L354.67,117.70L354.92,117.71L355.17,117.72L355.42,117.73L355.67,117.74L355.92,117.75L356.17,117.76L356.42,117.77L356.67,117.77L356.92,117.78L357.17,117.79L357.42,117.80L357.67,117.81L357.92,117.82L358.17,117.83L358.42,117.84L358.67,117.85L358.92,117.86L359.17,117.87L359.42,117.88L359.67,117.89L359.92,117.90L360.17,117.91L360.42,117.92L360.67,117.93L360.92,117.94L361.17,117.95L361.42,117.96L361.67,117.97L361.92,117.98L362.17,117.99L362.42,118.00L362.67,118.01L362.92,118.02L363.18,118.03L363.43,118.04L363.68,118.05L363.93,118.07L364.18,118.08L364.43,118.09L364.68,118.10L364.93,118.11L365.18,118.12L365.43,118.13L365.68,118.14L365.93,118.15L366.18,118.17L366.43,118.18L366.68,118.19L366.93,118.20L367.18,118.21L367.43,118.22L367.68,118.23L367.93,118.25L368.18,118.26L368.43,118.27L368.68,118.28L368.93,118.29L369.18,118.30L369.43,118.32L369.68,118.33L369.93,118.34L370.18,118.35L370.43,118.36L370.68,118.37L370.93,118.39L371.18,118.40L371.43,118.41L371.68,118.42L371.93,118.43L372.18,118.44L372.43,118.46L372.68,118.47L372.93,118.48L373.18,118.49L373.43,118.50L373.68,118.51L373.93,118.53L374.18,118.54L374.43,118.55L374.68,118.56L374.93,118.57L375.18,118.58L375.43,118.60L375.68,118.61L375.93,118.62L376.18,118.63L376.43,118.64L376.68,118.65L376.93,118.66L377.18,118.68L377.43,118.69L377.68,118.70L377.93,118.71L378.18,118.72L378.43,118.73L378.68,118.74L378.93,118.75L379.18,118.76L379.43,118.78L379.68,118.79L379.93,118.80L380.18,118.81L380.43,118.82L380.69,118.83L380.94,118.84L381.19,118.85L381.44,118.86L381.69,118.87L381.94,118.88L382.19,118.89L382.44,118.90L382.69,118.92L382.94,118.93L383.19,118.94L383.44,118.95L383.69,118.96L383.94,118.97L384.19,118.98L384.44,118.99L384.69,119.00L384.94,119.01L385.19,119.02L385.44,119.03L385.69,119.04L385.94,119.05L386.19,119.06L386.44,119.07L386.69,119.09L386.94,119.10L387.19,119.11L387.44,119.12L387.69,119.13L387.94,119.14L388.19,119.15L388.44,119.16L388.69,119.17L388.94,119.18L389.19,119.19L389.44,119.20L389.69,119.21L389.94,119.22L390.19,119.23L390.44,119.24L390.69,119.25L390.94,119.26L391.19,119.27L391.44,119.28L391.69,119.29L391.94,119.31L392.19,119.32L392.44,119.33L392.69,119.34L392.94,119.35L393.19,119.36L393.44,119.37L393.69,119.38L393.94,119.39L394.19,119.40L394.44,119.41L394.69,119.42L394.94,119.43L395.19,119.44L395.44,119.45L395.69,119.46L395.94,119.47L396.19,119.48L396.44,119.49L396.69,119.50L396.94,119.51L397.19,119.52L397.44,119.53L397.69,119.54L397.94,119.55L398.20,119.56L398.45,119.57L398.70,119.58L398.95,119.59L399.20,119.60L399.45,119.61L399.70,119.62L399.95,119.63L400.20,119.64L400.45,119.65L400.70,119.66L400.95,119.67L401.20,119.68L401.45,119.69L401.70,119.70L401.95,119.71L402.20,119.72L402.45,119.73L402.70,119.74L402.95,119.75L403.20,119.76L403.45,119.77L403.70,119.78L403.95,119.79L404.20,119.80L404.45,119.81L404.70,119.82L404.95,119.83L405.20,119.84L405.45,119.85L405.70,119.86L405.95,119.87L406.20,119.88L406.45,119.89L406.70,119.90" stroke="#00f"/>
<path d="M57.50,212.40L57.75,212.35L58.00,212.25L58.25,212.09L58.50,211.89L58.75,211.66L59.00,211.41L59.25,211.14L59.50,210.80L59.75,210.36L60.00,209.83L60.25,209.23L60.50,208.57L60.75,207.87L61.00,207.15L61.25,206.41L61.50,205.67L61.75,204.95L62.00,204.26L62.25,203.60L62.50,202.94L62.75,202.26L63.00,201.57L63.25,200.88L63.50,200.19L63.75,199.49L64.00,198.80L64.25,198.11L64.50,197.42L64.75,196.75L65.00,196.09L65.25,195.43L65.50,194.76L65.75,194.09L66.00,193.42L66.26,192.76L66.51,192.10L66.76,191.46L67.01,190.83L67.26,190.23L67.51,189.65L67.76,189.10L68.01,188.58L68.26,188.08L68.51,187.58L68.76,187.09L69.01,186.61L69.26,186.15L69.51,185.71L69.76,185.29L70.01,184.89L70.26,184.51L70.51,184.17L70.76,183.85L71.01,183.56L71.26,183.28L71.51,183.01L71.76,182.75L72.01,182.51L72.26,182.27L72.51,182.05L72.76,181.85L73.01,181.66L73.26,181.48L73.51,181.31L73.76,181.17L74.01,181.02L74.26,180.88L74.51,180.74L74.76,180.60L75.01,180.47L75.26,180.35L75.51,180.23L75.76,180.12L76.01,180.02L76.26,179.93L76.51,179.85L76.76,179.79L77.01,179.74L77.26,179.70L77.51,179.68L77.76,179.66L78.01,179.63L78.26,179.61L78.51,179.59L78.76,179.58L79.01,179.56L79.26,179.55L79.51,179.53L79.76,179.52L80.01,179.51L80.26,179.51L80.51,179.50L80.76,179.50L81.01,179.50L81.26,179.51L81.51,179.52L81.76,179.54L82.01,179.57L82.26,179.60L82.51,179.64L82.76,179.68L83.01,179.72L83.26,179.77L83.51,179.82L83.77,179.87L84.02,179.93L84.27,179.98L84.52,180.04L84.77,180.10L85.02,180.16L85.27,180.22L85.52,180.28L85.77,180.34L86.02,180.42L86.27,180.50L86.52,180.58L86.77,180.67L87.02,180.76L87.27,180.85L87.52,180.95L87.77,181.06L88.02,181.16L88.27,181.27L88.52,181.39L88.77,181.50L89.02,181.62L89.27,181.74L89.52,181.86L89.77,181.98L90.02,182.11L90.27,182.23L90.52,182.36L90.77,182.48L91.02,182.61L91.27,182.74L91.52,182.87L91.77,183.01L92.02,183.15L92.27,183.29L92.52,183.43L92.77,183.58L93.02,183.73L93.27,183.89L93.52,184.05L93.77,184.21L94.02,184.37L94.27,184.54L94.52,184.70L94.77,184.87L95.02,185.05L95.27,185.22L95.52,185.40L95.77,185.58L96.02,185.76L96.27,185.94L96.52,186.12L96.77,186.31L97.02,186.50L97.27,186.69L97.52,186.88L97.77,187.07L98.02,187.26L98.27,187.46L98.52,187.65L98.77,187.85L99.02,188.06L99.27,188.27L99.52,188.48L99.77,188.69L100.02,188.91L100.27,189.12L100.52,189.35L100.77,189.57L101.02,189.80L101.28,190.03L101.53,190.26L101.78,190.49L102.03,190.73L102.28,190.97L102.53,191.21L102.78,191.45L103.03,191.70L103.28,191.94L103.53,192.19L103.78,192.44L104.03,192.69L104.28,192.94L104.53,193.19L104.78,193.44L105.03,193.70L105.28,193.95L105.53,194.21L105.78,194.47L106.03,194.73L106.28,194.98L106.53,195.24L106.78,195.50L107.03,195.76L107.28,196.02L107.53,196.28L107.78,196.54L108.03,196.80L108.28,197.07L108.53,197.33L108.78,197.60L109.03,197.87L109.28,198.14L109.53,198.41L109.78,198.69L110.03,198.96L110.28,199.25L110.53,199.53L110.78,199.81L111.03,200.10L111.28,200.40L111.53,200.69L111.78,200.99L112.03,201.29L112.28,201.60L112.53,201.91L112.78,202.23L113.03,202.55L113.28,202.87L113.53,203.20L113.78,203.53L114.03,203.87L114.28,204.21L114.53,204.57L114.78,204.93L115.03,205.29L115.28,205.67L115.53,206.05L115.78,206.44L116.03,206.83L116.28,207.24L116.53,207.65L116.78,208.06L117.03,208.48L117.28,208.91L117.53,209.34L117.78,209.78L118.03,210.22L118.28,210.66L118.53,211.11L118.79,211.57L119.04,212.03L119.29,212.49L119.54,212.95L119.79,213.42L120.04,213.89L120.29,214.36L120.54,214.84L120.79,215.33L121.04,215.83L121.29,216.33L121.54,216.84L121.79,217.35L122.04,217.87L122.29,218.40L122.54,218.93L122.79,219.47L123.04,220.01L123.29,220.56L123.54,221.11L123.79,221.67L124.04,222.23L124.29,222.79L124.54,223.35L124.79,223.92L125.04,224.49L125.29,225.07L125.54,225.64L125.79,226.22L126.04,226.80L126.29,227.38L126.54,227.96L126.79,228.55L127.04,229.14L127.29,229.74L127.54,230.35L127.79,230.96L128.04,231.57L128.29,232.19L128.54,232.82L128.79,233.44L129.04,234.07L129.29,234.70L129.54,235.34L129.79,235.97L130.04,236.61L130.29,237.25L130.54,237.88L130.79,238.52L131.04,239.16L131.29,239.80L131.54,240.43L131.79,241.07L132.04,241.70L132.29,242.33L132.54,242.96L132.79,243.60L133.04,244.25L133.29,244.91L133.54,245.58L133.79,246.24L134.04,246.91L134.29,247.57L134.54,248.23L134.79,248.88L135.04,249.52L135.29,250.15L135.54,250.76L135.79,251.35L136.04,251.93L136.30,252.48L136.55,253.01L136.80,253.53L137.05,254.05L137.30,254.55L137.55,255.04L137.80,255.52L138.05,255.97L138.30,256.40L138.55,256.80L138.80,257.16L139.05,257.50L139.30,257.85L139.55,258.21L139.80,258.55L140.05,258.86L140.30,259.11L140.55,259.30L140.80,259.39L141.05,259.39L141.30,259.31L141.55,259.16L141.80,258.96L142.05,258.71L142.30,258.41L142.55,258.09L142.80,257.74L143.05,257.38L143.30,256.95L143.55,256.39L143.80,255.70L144.05,254.91L144.30,254.03L144.55,253.09L144.80,252.10L145.05,251.07L145.30,249.92L145.55,248.65L145.80,247.27L146.05,245.79L146.30,244.23L146.55,242.59L146.80,240.89L147.05,239.13L147.30,237.25L147.55,235.22L147.80,233.06L148.05,230.77L148.30,228.37L148.55,225.89L148.80,223.29L149.05,220.54L149.30,217.61L149.55,214.49L149.80,211.16L150.05,207.51L150.30,203.52L150.55,199.29L150.80,194.94L151.05,190.47L151.30,185.85L151.55,181.09L151.80,176.20L152.05,171.19L152.30,166.07L152.55,160.84L152.80,155.02L153.05,148.89L153.30,143.03L153.56,138.06L153.81,134.17L154.06,130.80L154.31,127.81L154.56,125.05L154.81,122.39L155.06,119.69L155.31,116.80L155.56,113.60L155.81,109.95L156.06,105.91L156.31,101.72L156.56,97.61L156.81,93.80L157.06,90.31L157.31,86.98L157.56,83.77L157.81,80.64L158.06,77.56L158.31,74.53L158.56,71.63L158.81,68.92L159.06,66.35L159.31,63.86L159.56,61.48L159.81,59.24L160.06,57.18L160.31,55.31L160.56,53.57L160.81,51.94L161.06,50.39L161.31,48.92L161.56,47.51L161.81,46.15L162.06,44.81L162.31,43.48L162.56,42.12L162.81,40.79L163.06,39.53L163.31,38.38L163.56,37.37L163.81,36.57L164.06,35.88L164.31,35.23L164.56,34.62L164.81,34.05L165.06,33.55L165.31,33.11L165.56,32.74L165.81,32.46L166.06,32.26L166.31,32.09L166.56,31.93L166.81,31.79L167.06,31.66L167.31,31.54L167.56,31.45L167.81,31.37L168.06,31.33L168.31,31.30L168.56,31.31L168.81,31.35L169.06,31.43L169.31,31.54L169.56,31.67L169.81,31.82L170.06,31.99L170.31,32.18L170.56,32.37L170.81,32.56L171.07,32.75L171.32,32.97L171.57,33.24L171.82,33.53L172.07,33.85L172.32,34.20L172.57,34.56L172.82,34.94L173.07,35.32L173.32,35.71L173.57,36.10L173.82,36.48L174.07,36.85L174.32,37.24L174.57,37.63L174.82,38.04L175.07,38.46L175.32,38.88L175.57,39.31L175.82,39.74L176.07,40.17L176.32,40.61L176.57,41.05L176.82,41.48L177.07,41.92L177.32,42.35L177.57,42.77L177.82,43.18L178.07,43.59L178.32,43.99L178.57,44.38L178.82,44.78L179.07,45.17L179.32,45.56L179.57,45.94L179.82,46.33L180.07,46.71L180.32,47.09L180.57,47.47L180.82,47.84L181.07,48.22L181.32,48.59L181.57,48.96L181.82,49.34L182.07,49.70L182.32,50.07L182.57,50.44L182.82,50.80L183.07,51.16L183.32,51.53L183.57,51.89L183.82,52.25L184.07,52.60L184.32,52.96L184.57,53.32L184.82,53.68L185.07,54.03L185.32,54.39L185.57,54.75L185.82,55.10L186.07,55.46L186.32,55.81L186.57,56.16L186.82,56.51L187.07,56.85L187.32,57.20L187.57,57.54L187.82,57.88L188.07,58.22L188.32,58.55L188.58,58.88L188.83,59.21L189.08,59.53L189.33,59.86L189.58,60.17L189.83,60.48L190.08,60.79L190.33,61.10L190.58,61.40L190.83,61.70L191.08,62.00L191.33,62.29L191.58,62.58L191.83,62.87L192.08,63.16L192.33,63.45L192.58,63.73L192.83,64.01L193.08,64.29L193.33,64.57L193.58,64.84L193.83,65.12L194.08,65.39L194.33,65.66L194.58,65.93L194.83,66.20L195.08,66.46L195.33,66.73L195.58,67.00L195.83,67.26L196.08,67.53L196.33,67.79L196.58,68.05L196.83,68.31L197.08,68.57L197.33,68.84L197.58,69.10L197.83,69.36L198.08,69.62L198.33,69.88L198.58,70.14L198.83,70.39L199.08,70.65L199.33,70.91L199.58,71.16L199.83,71.42L200.08,71.67L200.33,71.93L200.58,72.18L200.83,72.43L201.08,72.68L201.33,72.92L201.58,73.17L201.83,73.41L202.08,73.66L202.33,73.90L202.58,74.14L202.83,74.37L203.08,74.61L203.33,74.84L203.58,75.07L203.83,75.30L204.08,75.53L204.33,75.75L204.58,75.97L204.83,76.20L205.08,76.41L205.33,76.63L205.58,76.85L205.83,77.06L206.09,77.28L206.34,77.49L206.59,77.70L206.84,77.91L207.09,78.12L207.34,78.33L207.59,78.53L207.84,78.74L208.09,78.94L208.34,79.14L208.59,79.34L208.84,79.54L209.09,79.73L209.34,79.93L209.59,80.12L209.84,80.31L210.09,80.51L210.34,80.69L210.59,80.88L210.84,81.07L211.09,81.25L211.34,81.44L211.59,81.62L211.84,81.80L212.09,81.98L212.34,82.16L212.59,82.33L212.84,82.51L213.09,82.69L213.34,82.86L213.59,83.03L213.84,83.20L214.09,83.37L214.34,83.54L214.59,83.71L214.84,83.88L215.09,84.04L215.34,84.21L215.59,84.37L215.84,84.53L216.09,84.69L216.34,84.85L216.59,85.01L216.84,85.17L217.09,85.32L217.34,85.48L217.59,85.63L217.84,85.78L218.09,85.93L218.34,86.08L218.59,86.22L218.84,86.37L219.09,86.51L219.34,86.65L219.59,86.80L219.84,86.94L220.09,87.08L220.34,87.22L220.59,87.35L220.84,87.49L221.09,87.63L221.34,87.76L221.59,87.90L221.84,88.03L222.09,88.16L222.34,88.29L222.59,88.42L222.84,88.55L223.09,88.68L223.34,88.80L223.60,88.93L223.85,89.05L224.10,89.17L224.35,89.29L224.60,89.41L224.85,89.53L225.10,89.65L225.35,89.76L225.60,89.88L225.85,89.99L226.10,90.10L226.35,90.21L226.60,90.32L226.85,90.42L227.10,90.53L227.35,90.63L227.60,90.73L227.85,90.83L228.10,90.93L228.35,91.03L228.60,91.13L228.85,91.23L229.10,91.32L229.35,91.42L229.60,91.51L229.85,91.61L230.10,91.70L230.35,91.79L230.60,91.88L230.85,91.97L231.10,92.07L231.35,92.16L231.60,92.25L231.85,92.34L232.10,92.43L232.35,92.52L232.60,92.61L232.85,92.70L233.10,92.79L233.35,92.88L233.60,92.97L233.85,93.06L234.10,93.16L234.35,93.25L234.60,93.34L234.85,93.43L235.10,93.52L235.35,93.61L235.60,93.70L235.85,93.79L236.10,93.88L236.35,93.97L236.60,94.06L236.85,94.15L237.10,94.24L237.35,94.33L237.60,94.42L237.85,94.50L238.10,94.59L238.35,94.68L238.60,94.76L238.85,94.84L239.10,94.93L239.35,95.01L239.60,95.09L239.85,95.17L240.10,95.25L240.35,95.33L240.60,95.40L240.86,95.48L241.11,95.55L241.36,95.62L241.61,95.70L241.86,95.77L242.11,95.84L242.36,95.91L242.61,95.98L242.86,96.04L243.11,96.11L243.36,96.18L243.61,96.25L243.86,96.31L244.11,96.38L244.36,96.44L244.61,96.51L244.86,96.57L245.11,96.63L245.36,96.70L245.61,96.76L245.86,96.82L246.11,96.89L246.36,96.95L246.61,97.01L246.86,97.08L247.11,97.14L247.36,97.21L247.61,97.27L247.86,97.33L248.11,97.40L248.36,97.46L248.61,97.53L248.86,97.59L249.11,97.66L249.36,97.73L249.61,97.79L249.86,97.86L250.11,97.93L250.36,98.00L250.61,98.07L250.86,98.14L251.11,98.21L251.36,98.28L251.61,98.35L251.86,98.43L252.11,98.50L252.36,98.57L252.61,98.65L252.86,98.72L253.11,98.79L253.36,98.87L253.61,98.94L253.86,99.02L254.11,99.09L254.36,99.16L254.61,99.24L254.86,99.31L255.11,99.38L255.36,99.46L255.61,99.53L255.86,99.60L256.11,99.68L256.36,99.75L256.61,99.82L256.86,99.89L257.11,99.96L257.36,100.03L257.61,100.10L257.86,100.17L258.11,100.24L258.37,100.31L258.62,100.37L258.87,100.44L259.12,100.50L259.37,100.57L259.62,100.63L259.87,100.69L260.12,100.75L260.37,100.82L260.62,100.88L260.87,100.94L261.12,101.00L261.37,101.06L261.62,101.12L261.87,101.19L262.12,101.25L262.37,101.31L262.62,101.37L262.87,101.43L263.12,101.49L263.37,101.54L263.62,101.60L263.87,101.66L264.12,101.72L264.37,101.78L264.62,101.84L264.87,101.90L265.12,101.95L265.37,102.01L265.62,102.07L265.87,102.12L266.12,102.18L266.37,102.24L266.62,102.29L266.87,102.35L267.12,102.40L267.37,102.46L267.62,102.51L267.87,102.57L268.12,102.62L268.37,102.68L268.62,102.73L268.87,102.79L269.12,102.84L269.37,102.89L269.62,102.94L269.87,103.00L270.12,103.05L270.37,103.10L270.62,103.15L270.87,103.20L271.12,103.25L271.37,103.30L271.62,103.36L271.87,103.41L272.12,103.46L272.37,103.50L272.62,103.55L272.87,103.60L273.12,103.65L273.37,103.70L273.62,103.75L273.87,103.80L274.12,103.84L274.37,103.89L274.62,103.94L274.87,103.98L275.12,104.03L275.37,104.07L275.62,104.12L275.88,104.16L276.13,104.21L276.38,104.25L276.63,104.30L276.88,104.34L277.13,104.38L277.38,104.42L277.63,104.47L277.88,104.51L278.13,104.55L278.38,104.59L278.63,104.64L278.88,104.68L279.13,104.72L279.38,104.76L279.63,104.80L279.88,104.84L280.13,104.88L280.38,104.92L280.63,104.96L280.88,105.00L281.13,105.04L281.38,105.08L281.63,105.12L281.88,105.16L282.13,105.20L282.38,105.24L282.63,105.28L282.88,105.32L283.13,105.36L283.38,105.40L283.63,105.44L283.88,105.48L284.13,105.52L284.38,105.56L284.63,105.60L284.88,105.63L285.13,105.67L285.38,105.71L285.63,105.75L285.88,105.79L286.13,105.83L286.38,105.87L286.63,105.91L286.88,105.95L287.13,105.99L287.38,106.03L287.63,106.07L287.88,106.12L288.13,106.16L288.38,106.20L288.63,106.24L288.88,106.28L289.13,106.32L289.38,106.36L289.63,106.41L289.88,106.45L290.13,106.49L290.38,106.53L290.63,106.58L290.88,106.62L291.13,106.66L291.38,106.71L291.63,106.75L291.88,106.79L292.13,106.83L292.38,106.88L292.63,106.92L292.88,106.96L293.13,107.01L293.39,107.05L293.64,107.09L293.89,107.14L294.14,107.18L294.39,107.22L294.64,107.26L294.89,107.31L295.14,107.35L295.39,107.39L295.64,107.43L295.89,107.47L296.14,107.51L296.39,107.55L296.64,107.59L296.89,107.63L297.14,107.67L297.39,107.71L297.64,107.75L297.89,107.79L298.14,107.83L298.39,107.87L298.64,107.90L298.89,107.94L299.14,107.98L299.39,108.01L299.64,108.05L299.89,108.08L300.14,108.12L300.39,108.15L300.64,108.19L300.89,108.22L301.14,108.25L301.39,108.29L301.64,108.32L301.89,108.35L302.14,108.39L302.39,108.42L302.64,108.45L302.89,108.48L303.14,108.51L303.39,108.54L303.64,108.58L303.89,108.61L304.14,108.64L304.39,108.67L304.64,108.70L304.89,108.73L305.14,108.76L305.39,108.79L305.64,108.82L305.89,108.85L306.14,108.88L306.39,108.91L306.64,108.94L306.89,108.97L307.14,108.99L307.39,109.02L307.64,109.05L307.89,109.08L308.14,109.11L308.39,109.14L308.64,109.16L308.89,109.19L309.14,109.22L309.39,109.25L309.64,109.28L309.89,109.30L310.14,109.33L310.39,109.36L310.64,109.39L310.90,109.41L311.15,109.44L311.40,109.47L311.65,109.49L311.90,109.52L312.15,109.55L312.40,109.58L312.65,109.60L312.90,109.63L313.15,109.66L313.40,109.68L313.65,109.71L313.90,109.74L314.15,109.76L314.40,109.79L314.65,109.82L314.90,109.84L315.15,109.87L315.40,109.89L315.65,109.92L315.90,109.95L316.15,109.97L316.40,110.00L316.65,110.02L316.90,110.05L317.15,110.08L317.40,110.10L317.65,110.13L317.90,110.15L318.15,110.18L318.40,110.20L318.65,110.23L318.90,110.25L319.15,110.28L319.40,110.30L319.65,110.32L319.90,110.35L320.15,110.37L320.40,110.40L320.65,110.42L320.90,110.45L321.15,110.47L321.40,110.49L321.65,110.52L321.90,110.54L322.15,110.57L322.40,110.59L322.65,110.61L322.90,110.64L323.15,110.66L323.40,110.69L323.65,110.71L323.90,110.73L324.15,110.76L324.40,110.78L324.65,110.80L324.90,110.83L325.15,110.85L325.40,110.87L325.65,110.90L325.90,110.92L326.15,110.94L326.40,110.97L326.65,110.99L326.90,111.01L327.15,111.04L327.40,111.06L327.65,111.08L327.90,111.11L328.16,111.13L328.41,111.15L328.66,111.18L328.91,111.20L329.16,111.22L329.41,111.25L329.66,111.27L329.91,111.29L330.16,111.32L330.41,111.34L330.66,111.36L330.91,111.39L331.16,111.41L331.41,111.44L331.66,111.46L331.91,111.48L332.16,111.51L332.41,111.53L332.66,111.55L332.91,111.58L333.16,111.60L333.41,111.62L333.66,111.65L333.91,111.67L334.16,111.70L334.41,111.72L334.66,111.74L334.91,111.77L335.16,111.79L335.41,111.81L335.66,111.84L335.91,111.86L336.16,111.88L336.41,111.90L336.66,111.93L336.91,111.95L337.16,111.97L337.41,112.00L337.66,112.02L337.91,112.04L338.16,112.06L338.41,112.09L338.66,112.11L338.91,112.13L339.16,112.15L339.41,112.17L339.66,112.19L339.91,112.22L340.16,112.24L340.41,112.26L340.66,112.28L340.91,112.30L341.16,112.32L341.41,112.34L341.66,112.36L341.91,112.38L342.16,112.40L342.41,112.42L342.66,112.44L342.91,112.46L343.16,112.48L343.41,112.50L343.66,112.52L343.91,112.54L344.16,112.56L344.41,112.58L344.66,112.59L344.91,112.61L345.16,112.63L345.41,112.65L345.67,112.67L345.92,112.68L346.17,112.70L346.42,112.72L346.67,112.74L346.92,112.75L347.17,112.77L347.42,112.79L347.67,112.81L347.92,112.82L348.17,112.84L348.42,112.86L348.67,112.87L348.92,112.89L349.17,112.90L349.42,112.92L349.67,112.94L349.92,112.95L350.17,112.97L350.42,112.99L350.67,113.00L350.92,113.02L351.17,113.03L351.42,113.05L351.67,113.07L351.92,113.08L352.17,113.10L352.42,113.11L352.67,113.13L352.92,113.14L353.17,113.16L353.42,113.18L353.67,113.19L353.92,113.21L354.17,113.22L354.42,113.24L354.67,113.25L354.92,113.27L355.17,113.29L355.42,113.30L355.67,113.32L355.92,113.33L356.17,113.35L356.42,113.37L356.67,113.38L356.92,113.40L357.17,113.41L357.42,113.43L357.67,113.45L357.92,113.46L358.17,113.48L358.42,113.49L358.67,113.51L358.92,113.53L359.17,113.54L359.42,113.56L359.67,113.58L359.92,113.59L360.17,113.61L360.42,113.63L360.67,113.65L360.92,113.66L361.17,113.68L361.42,113.70L361.67,113.72L361.92,113.73L362.17,113.75L362.42,113.77L362.67,113.79L362.92,113.80L363.18,113.82L363.43,113.84L363.68,113.86L363.93,113.88L364.18,113.89L364.43,113.91L364.68,113.93L364.93,113.95L365.18,113.97L365.43,113.98L365.68,114.00L365.93,114.02L366.18,114.04L366.43,114.06L366.68,114.08L366.93,114.09L367.18,114.11L367.43,114.13L367.68,114.15L367.93,114.17L368.18,114.19L368.43,114.20L368.68,114.22L368.93,114.24L369.18,114.26L369.43,114.28L369.68,114.30L369.93,114.31L370.18,114.33L370.43,114.35L370.68,114.37L370.93,114.39L371.18,114.40L371.43,114.42L371.68,114.44L371.93,114.46L372.18,114.48L372.43,114.49L372.68,114.51L372.93,114.53L373.18,114.55L373.43,114.57L373.68,114.58L373.93,114.60L374.18,114.62L374.43,114.64L374.68,114.65L374.93,114.67L375.18,114.69L375.43,114.70L375.68,114.72L375.93,114.74L376.18,114.76L376.43,114.77L376.68,114.79L376.93,114.81L377.18,114.82L377.43,114.84L377.68,114.85L377.93,114.87L378.18,114.89L378.43,114.90L378.68,114.92L378.93,114.93L379.18,114.95L379.43,114.97L379.68,114.98L379.93,115.00L380.18,115.01L380.43,115.03L380.69,115.04L380.94,115.06L381.19,115.07L381.44,115.09L381.69,115.10L381.94,115.12L382.19,115.13L382.44,115.15L382.69,115.16L382.94,115.18L383.19,115.19L383.44,115.20L383.69,115.22L383.94,115.23L384.19,115.25L384.44,115.26L384.69,115.28L384.94,115.29L385.19,115.31L385.44,115.32L385.69,115.34L385.94,115.35L386.19,115.36L386.44,115.38L386.69,115.39L386.94,115.41L387.19,115.42L387.44,115.44L387.69,115.45L387.94,115.46L388.19,115.48L388.44,115.49L388.69,115.51L388.94,115.52L389.19,115.53L389.44,115.55L389.69,115.56L389.94,115.58L390.19,115.59L390.44,115.60L390.69,115.62L390.94,115.63L391.19,115.64L391.44,115.66L391.69,115.67L391.94,115.68L392.19,115.70L392.44,115.71L392.69,115.73L392.94,115.74L393.19,115.75L393.44,115.76L393.69,115.78L393.94,115.79L394.19,115.80L394.44,115.82L394.69,115.83L394.94,115.84L395.19,115.86L395.44,115.87L395.69,115.88L395.94,115.90L396.19,115.91L396.44,115.92L396.69,115.93L396.94,115.95L397.19,115.96L397.44,115.97L397.69,115.98L397.94,116.00L398.20,116.01L398.45,116.02L398.70,116.03L398.95,116.05L399.20,116.06L399.45,116.07L399.70,116.08L399.95,116.09L400.20,116.11L400.45,116.12L400.70,116.13L400.95,116.14L401.20,116.15L401.45,116.17L401.70,116.18L401.95,116.19L402.20,116.20L402.45,116.21L402.70,116.22L402.95,116.23L403.20,116.25L403.45,116.26L403.70,116.27L403.95,116.28L404.20,116.29L404.45,116.30L404.70,116.31L404.95,116.32L405.20,116.34L405.45,116.35L405.70,116.36L405.95,116.37L406.20,116.38L406.45,116.39L406.70,116.40" stroke="#f0f"/>
</g>
<path d="M50.55,0V284 M49.9,283.4H413.8 M49.9,0.3H413.8" stroke="#000" stroke-width="1.25" fill="none"/>
<rect x="412.1" y="0" width="1.7" height="284" fill="#7d7d7d"/>
<path d="M57.95,283.40v-1.70M57.95,0.30v1.70M74.50,283.40v-3.10M74.50,0.30v3.10M91.06,283.40v-1.70M91.06,0.30v1.70M107.61,283.40v-1.70M107.61,0.30v1.70M124.16,283.40v-1.70M124.16,0.30v1.70M140.72,283.40v-1.70M140.72,0.30v1.70M157.28,283.40v-3.10M157.28,0.30v3.10M173.83,283.40v-1.70M173.83,0.30v1.70M190.38,283.40v-1.70M190.38,0.30v1.70M206.94,283.40v-1.70M206.94,0.30v1.70M223.50,283.40v-1.70M223.50,0.30v1.70M240.05,283.40v-3.10M240.05,0.30v3.10M256.61,283.40v-1.70M256.61,0.30v1.70M273.16,283.40v-1.70M273.16,0.30v1.70M289.72,283.40v-1.70M289.72,0.30v1.70M306.27,283.40v-1.70M306.27,0.30v1.70M322.82,283.40v-3.10M322.82,0.30v3.10M339.38,283.40v-1.70M339.38,0.30v1.70M355.94,283.40v-1.70M355.94,0.30v1.70M372.49,283.40v-1.70M372.49,0.30v1.70M389.05,283.40v-1.70M389.05,0.30v1.70M405.60,283.40v-3.10M405.60,0.30v3.10M50.55,283.50h3.10M412.90,283.50h-3.10M50.55,273.74h1.70M412.90,273.74h-1.70M50.55,263.98h1.70M412.90,263.98h-1.70M50.55,254.22h1.70M412.90,254.22h-1.70M50.55,244.46h1.70M412.90,244.46h-1.70M50.55,234.70h3.10M412.90,234.70h-3.10M50.55,224.94h1.70M412.90,224.94h-1.70M50.55,215.18h1.70M412.90,215.18h-1.70M50.55,205.42h1.70M412.90,205.42h-1.70M50.55,195.66h1.70M412.90,195.66h-1.70M50.55,185.90h3.10M412.90,185.90h-3.10M50.55,176.14h1.70M412.90,176.14h-1.70M50.55,166.38h1.70M412.90,166.38h-1.70M50.55,156.62h1.70M412.90,156.62h-1.70M50.55,146.86h1.70M412.90,146.86h-1.70M50.55,137.10h3.10M412.90,137.10h-3.10M50.55,127.34h1.70M412.90,127.34h-1.70M50.55,117.58h1.70M412.90,117.58h-1.70M50.55,107.82h1.70M412.90,107.82h-1.70M50.55,98.06h1.70M412.90,98.06h-1.70M50.55,88.30h3.10M412.90,88.30h-3.10M50.55,78.54h1.70M412.90,78.54h-1.70M50.55,68.78h1.70M412.90,68.78h-1.70M50.55,59.02h1.70M412.90,59.02h-1.70M50.55,49.26h1.70M412.90,49.26h-1.70M50.55,39.50h3.10M412.90,39.50h-3.10M50.55,29.74h1.70M412.90,29.74h-1.70M50.55,19.98h1.70M412.90,19.98h-1.70M50.55,10.22h1.70M412.90,10.22h-1.70M50.55,0.46h1.70M412.90,0.46h-1.70" stroke="#000" stroke-width="1" fill="none"/>
<text transform="translate(74.60,304.80) scale(0.760,1)" text-anchor="middle" font-size="18.0" font-weight="bold" stroke="#000" stroke-width="0.55">0</text>
<text transform="translate(157.38,304.80) scale(0.760,1)" text-anchor="middle" font-size="18.0" font-weight="bold" stroke="#000" stroke-width="0.55">5</text>
<text transform="translate(240.15,304.80) scale(0.760,1)" text-anchor="middle" font-size="18.0" font-weight="bold" stroke="#000" stroke-width="0.55">10</text>
<rect x="232.33" y="301.89" width="2.80" height="3.99" fill="#fff"/>
<rect x="238.22" y="301.89" width="2.62" height="3.99" fill="#fff"/>
<text transform="translate(322.93,304.80) scale(0.760,1)" text-anchor="middle" font-size="18.0" font-weight="bold" stroke="#000" stroke-width="0.55">15</text>
<rect x="315.10" y="301.89" width="2.80" height="3.99" fill="#fff"/>
<rect x="321.00" y="301.89" width="2.62" height="3.99" fill="#fff"/>
<text transform="translate(405.70,304.80) scale(0.760,1)" text-anchor="middle" font-size="18.0" font-weight="bold" stroke="#000" stroke-width="0.55">20</text>
<text transform="translate(47.50,290.60) scale(0.760,1)" text-anchor="end" font-size="18.0" font-weight="bold" stroke="#000" stroke-width="0.55">3</text>
<rect x="31" y="284.80" width="7.1" height="2.2" fill="#000"/>
<text transform="translate(47.50,241.80) scale(0.760,1)" text-anchor="end" font-size="18.0" font-weight="bold" stroke="#000" stroke-width="0.55">2</text>
<rect x="31" y="236.00" width="7.1" height="2.2" fill="#000"/>
<text transform="translate(47.50,193.00) scale(0.760,1)" text-anchor="end" font-size="18.0" font-weight="bold" stroke="#000" stroke-width="0.55">1</text>
<rect x="39.68" y="190.09" width="2.80" height="3.99" fill="#fff"/>
<rect x="45.57" y="190.09" width="2.62" height="3.99" fill="#fff"/>
<rect x="31" y="187.20" width="7.1" height="2.2" fill="#000"/>
<text transform="translate(47.50,144.20) scale(0.760,1)" text-anchor="end" font-size="18.0" font-weight="bold" stroke="#000" stroke-width="0.55">0</text>
<text transform="translate(47.50,95.40) scale(0.760,1)" text-anchor="end" font-size="18.0" font-weight="bold" stroke="#000" stroke-width="0.55">1</text>
<rect x="39.68" y="92.49" width="2.80" height="3.99" fill="#fff"/>
<rect x="45.57" y="92.49" width="2.62" height="3.99" fill="#fff"/>
<text transform="translate(47.50,46.60) scale(0.760,1)" text-anchor="end" font-size="18.0" font-weight="bold" stroke="#000" stroke-width="0.55">2</text>
<text transform="translate(231.8,338) scale(0.9,1)" text-anchor="middle" font-size="23" font-weight="bold" font-style="italic">z</text>
<g transform="translate(19.8,157.9) rotate(-90)" font-weight="bold" font-style="italic"><text font-size="23" transform="scale(1.08,1)" stroke="#000" stroke-width="0.5">ω</text><text x="20.6" y="3.1" font-size="15" stroke="#000" stroke-width="0.3">ϕ</text></g>
<line x1="324.30" x2="336.40" y1="28.10" y2="28.10" stroke="#f00" stroke-width="1.50"/>
<text transform="translate(343.20,32.45) scale(0.775,1)" font-size="13.0" font-weight="bold" font-style="italic" stroke="#000" stroke-width="0.3">Ω<tspan font-size="9.4" dy="2.6">m0</tspan></text>
<text transform="translate(363.70,32.45) scale(0.660,1)" font-size="13.0" font-weight="bold" font-style="italic" stroke="#000" stroke-width="0.3">=</text>
<text transform="translate(370.80,32.45) scale(0.760,1)" font-size="13.0" font-weight="bold" font-style="italic" stroke="#000" stroke-width="0.3">0.25</text>
<line x1="324.30" x2="336.40" y1="50.00" y2="50.00" stroke="#00f" stroke-width="1.50"/>
<text transform="translate(343.20,54.36) scale(0.775,1)" font-size="13.0" font-weight="bold" font-style="italic" stroke="#000" stroke-width="0.3">Ω<tspan font-size="9.4" dy="2.6">m0</tspan></text>
<text transform="translate(363.70,54.36) scale(0.660,1)" font-size="13.0" font-weight="bold" font-style="italic" stroke="#000" stroke-width="0.3">=</text>
<text transform="translate(370.80,54.36) scale(0.760,1)" font-size="13.0" font-weight="bold" font-style="italic" stroke="#000" stroke-width="0.3">0.26</text>
<line x1="324.30" x2="336.40" y1="71.60" y2="71.60" stroke="#f0f" stroke-width="1.50"/>
<text transform="translate(343.20,75.95) scale(0.775,1)" font-size="13.0" font-weight="bold" font-style="italic" stroke="#000" stroke-width="0.3">Ω<tspan font-size="9.4" dy="2.6">m0</tspan></text>
<text transform="translate(363.70,75.95) scale(0.660,1)" font-size="13.0" font-weight="bold" font-style="italic" stroke="#000" stroke-width="0.3">=</text>
<text transform="translate(370.80,75.95) scale(0.760,1)" font-size="13.0" font-weight="bold" font-style="italic" stroke="#000" stroke-width="0.3">0.269</text>
<rect x="240.8" y="143" width="152.7" height="119.3" fill="#fff"/>
<line x1="240.8" x2="393.5" y1="222.5" y2="222.5" stroke="#b0b0b0" stroke-width="0.8"/>
<g clip-path="url(#ci)" fill="none" stroke-width="1.0" stroke-linejoin="round">
<path d="M243.40,253.40L243.65,252.36L243.90,251.35L244.16,250.37L244.41,249.44L244.66,248.55L244.91,247.71L245.16,246.91L245.41,246.16L245.67,245.43L245.92,244.70L246.17,244.01L246.42,243.37L246.67,242.78L246.92,242.26L247.18,241.84L247.43,241.46L247.68,241.09L247.93,240.76L248.18,240.52L248.43,240.41L248.69,240.41L248.94,240.44L249.19,240.50L249.44,240.58L249.69,240.68L249.94,240.78L250.20,240.90L250.45,241.05L250.70,241.28L250.95,241.56L251.20,241.89L251.46,242.26L251.71,242.67L251.96,243.10L252.21,243.54L252.46,244.01L252.71,244.54L252.97,245.14L253.22,245.80L253.47,246.50L253.72,247.25L253.97,248.01L254.22,248.80L254.48,249.59L254.73,250.38L254.98,251.16L255.23,251.97L255.48,252.80L255.73,253.66L255.99,254.53L256.24,255.43L256.49,256.34L256.74,257.28L256.99,258.22L257.24,259.19L257.50,260.18L257.75,261.23L258.00,262.30 M264.6,262.3V143 M264.6,143 M268.10,143.00L268.35,146.19L268.60,149.28L268.85,152.25L269.10,155.09L269.35,157.84L269.60,160.55L269.85,163.12L270.10,165.45L270.35,167.49L270.60,169.35L270.85,171.07L271.10,172.69L271.35,174.25L271.60,175.78L271.85,177.33L272.10,178.91L272.35,180.48L272.60,181.98L272.85,183.38L273.10,184.64L273.35,185.70L273.60,186.65L273.85,187.56L274.10,188.41L274.35,189.22L274.60,189.98L274.85,190.70L275.10,191.38L275.35,192.03L275.60,192.64L275.85,193.22L276.10,193.78L276.35,194.30L276.60,194.81L276.85,195.31L277.10,195.78L277.35,196.24L277.60,196.69L277.85,197.12L278.10,197.54L278.35,197.94L278.60,198.32L278.85,198.70L279.10,199.05L279.35,199.40L279.60,199.73L279.85,200.05L280.10,200.35L280.35,200.64L280.60,200.92L280.85,201.20L281.10,201.47L281.35,201.74L281.60,202.00L281.85,202.26L282.10,202.51L282.35,202.75L282.60,203.00L282.85,203.23L283.10,203.46L283.35,203.69L283.60,203.91L283.85,204.12L284.10,204.33L284.35,204.54L284.60,204.74L284.85,204.93L285.10,205.12L285.35,205.30L285.60,205.48L285.85,205.65L286.10,205.82L286.35,205.98L286.60,206.14L286.85,206.29L287.10,206.43L287.35,206.57L287.60,206.71L287.85,206.84L288.10,206.97L288.35,207.09L288.60,207.21L288.85,207.33L289.10,207.45L289.35,207.56L289.60,207.67L289.85,207.78L290.10,207.89L290.35,207.99L290.60,208.10L290.85,208.20L291.10,208.29L291.35,208.39L291.60,208.48L291.85,208.57L292.10,208.66L292.35,208.75L292.60,208.84L292.85,208.92L293.10,209.01L293.35,209.09L293.60,209.17L293.85,209.25L294.10,209.33L294.35,209.40L294.60,209.48L294.85,209.56L295.10,209.63L295.35,209.70L295.60,209.78L295.85,209.85L296.10,209.92L296.35,209.99L296.60,210.06L296.85,210.13L297.10,210.20L297.35,210.27L297.60,210.34L297.85,210.41L298.10,210.48L298.35,210.54L298.60,210.61L298.85,210.68L299.10,210.74L299.35,210.80L299.60,210.87L299.85,210.93L300.10,210.99L300.35,211.05L300.60,211.11L300.85,211.17L301.10,211.23L301.35,211.29L301.60,211.35L301.85,211.41L302.10,211.46L302.35,211.52L302.60,211.57L302.85,211.63L303.10,211.68L303.35,211.73L303.60,211.79L303.85,211.84L304.10,211.89L304.35,211.94L304.60,211.98L304.85,212.03L305.10,212.08L305.35,212.12L305.60,212.17L305.85,212.21L306.10,212.26L306.35,212.30L306.60,212.34L306.85,212.38L307.10,212.42L307.35,212.46L307.60,212.50L307.85,212.54L308.10,212.57L308.35,212.61L308.60,212.65L308.85,212.68L309.10,212.72L309.35,212.75L309.60,212.79L309.85,212.82L310.10,212.86L310.35,212.89L310.60,212.92L310.85,212.95L311.10,212.99L311.35,213.02L311.60,213.05L311.85,213.08L312.10,213.11L312.35,213.14L312.60,213.17L312.85,213.20L313.10,213.23L313.35,213.26L313.60,213.29L313.85,213.32L314.10,213.35L314.35,213.38L314.60,213.40L314.85,213.43L315.10,213.46L315.35,213.48L315.60,213.51L315.85,213.54L316.10,213.56L316.35,213.59L316.60,213.61L316.85,213.64L317.10,213.67L317.35,213.69L317.60,213.72L317.85,213.74L318.10,213.76L318.35,213.79L318.60,213.81L318.85,213.84L319.10,213.86L319.35,213.88L319.60,213.91L319.85,213.93L320.10,213.95L320.35,213.98L320.60,214.00L320.85,214.02L321.10,214.04L321.35,214.07L321.60,214.09L321.85,214.11L322.10,214.13L322.35,214.16L322.60,214.18L322.85,214.20L323.10,214.22L323.35,214.24L323.60,214.27L323.85,214.29L324.10,214.31L324.35,214.33L324.60,214.35L324.85,214.37L325.10,214.39L325.35,214.42L325.60,214.44L325.85,214.46L326.10,214.48L326.35,214.50L326.60,214.52L326.85,214.54L327.10,214.56L327.35,214.58L327.60,214.60L327.85,214.62L328.10,214.64L328.35,214.66L328.60,214.68L328.85,214.70L329.10,214.72L329.35,214.74L329.60,214.76L329.85,214.77L330.10,214.79L330.35,214.81L330.60,214.83L330.85,214.85L331.10,214.87L331.35,214.89L331.60,214.90L331.85,214.92L332.10,214.94L332.35,214.96L332.60,214.98L332.85,214.99L333.10,215.01L333.35,215.03L333.60,215.05L333.85,215.06L334.10,215.08L334.35,215.10L334.60,215.12L334.85,215.13L335.10,215.15L335.35,215.17L335.60,215.18L335.85,215.20L336.10,215.22L336.35,215.23L336.60,215.25L336.85,215.27L337.10,215.28L337.35,215.30L337.60,215.31L337.85,215.33L338.10,215.35L338.35,215.36L338.60,215.38L338.85,215.39L339.10,215.41L339.35,215.42L339.60,215.44L339.85,215.45L340.10,215.47L340.35,215.48L340.60,215.50L340.85,215.51L341.10,215.53L341.35,215.54L341.60,215.56L341.85,215.57L342.10,215.59L342.35,215.60L342.60,215.62L342.85,215.63L343.10,215.65L343.35,215.66L343.60,215.68L343.85,215.69L344.10,215.71L344.35,215.72L344.60,215.73L344.85,215.75L345.10,215.76L345.35,215.78L345.60,215.79L345.85,215.81L346.10,215.82L346.35,215.84L346.60,215.85L346.85,215.87L347.10,215.88L347.35,215.90L347.60,215.91L347.85,215.92L348.10,215.94L348.35,215.95L348.60,215.97L348.85,215.98L349.10,216.00L349.35,216.01L349.60,216.02L349.85,216.04L350.10,216.05L350.35,216.06L350.60,216.08L350.85,216.09L351.10,216.11L351.35,216.12L351.60,216.13L351.85,216.14L352.10,216.16L352.35,216.17L352.60,216.18L352.85,216.20L353.10,216.21L353.35,216.22L353.60,216.23L353.85,216.24L354.10,216.26L354.35,216.27L354.60,216.28L354.85,216.29L355.10,216.30L355.35,216.31L355.60,216.32L355.85,216.34L356.10,216.35L356.35,216.36L356.60,216.37L356.85,216.38L357.10,216.39L357.35,216.40L357.60,216.40L357.85,216.41L358.10,216.42L358.35,216.43L358.60,216.44L358.85,216.45L359.10,216.46L359.35,216.46L359.60,216.47L359.85,216.48L360.10,216.49L360.35,216.49L360.60,216.50L360.85,216.51L361.10,216.51L361.35,216.52L361.60,216.53L361.85,216.53L362.10,216.54L362.35,216.55L362.60,216.55L362.85,216.56L363.10,216.56L363.35,216.57L363.60,216.58L363.85,216.58L364.10,216.59L364.35,216.60L364.60,216.60L364.85,216.61L365.10,216.61L365.35,216.62L365.60,216.63L365.85,216.63L366.10,216.64L366.35,216.65L366.60,216.65L366.85,216.66L367.10,216.66L367.35,216.67L367.60,216.68L367.85,216.68L368.10,216.69L368.35,216.69L368.60,216.70L368.85,216.71L369.10,216.71L369.35,216.72L369.60,216.72L369.85,216.73L370.10,216.73L370.35,216.74L370.60,216.74L370.85,216.75L371.10,216.76L371.35,216.76L371.60,216.77L371.85,216.77L372.10,216.78L372.35,216.78L372.60,216.79L372.85,216.79L373.10,216.80L373.35,216.80L373.60,216.81L373.85,216.81L374.10,216.82L374.35,216.82L374.60,216.83L374.85,216.83L375.10,216.84L375.35,216.84L375.60,216.85L375.85,216.85L376.10,216.86L376.35,216.86L376.60,216.87L376.85,216.87L377.10,216.87L377.35,216.88L377.60,216.88L377.85,216.89L378.10,216.89L378.35,216.89L378.60,216.90L378.85,216.90L379.10,216.91L379.35,216.91L379.60,216.91L379.85,216.92L380.10,216.92L380.35,216.92L380.60,216.93L380.85,216.93L381.10,216.93L381.35,216.94L381.60,216.94L381.85,216.94L382.10,216.95L382.35,216.95L382.60,216.95L382.85,216.96L383.10,216.96L383.35,216.96L383.60,216.96L383.85,216.97L384.10,216.97L384.35,216.97L384.60,216.97L384.85,216.98L385.10,216.98L385.35,216.98L385.60,216.98L385.85,216.98L386.10,216.98L386.35,216.99L386.60,216.99L386.85,216.99L387.10,216.99L387.35,216.99L387.60,216.99L387.85,216.99L388.10,217.00L388.35,217.00L388.60,217.00L388.85,217.00L389.10,217.00L389.35,217.00L389.60,217.00L389.85,217.00L390.10,217.00L390.35,217.00L390.60,217.00" stroke="#ff7f00"/>
<path d="M243.40,253.40L243.65,252.35L243.91,251.33L244.16,250.35L244.42,249.41L244.67,248.51L244.93,247.66L245.18,246.86L245.43,246.11L245.69,245.36L245.94,244.64L246.20,243.94L246.45,243.29L246.70,242.71L246.96,242.20L247.21,241.78L247.47,241.40L247.72,241.04L247.97,240.75L248.23,240.61L248.48,240.62L248.74,240.72L248.99,240.88L249.25,241.07L249.50,241.30L249.75,241.66L250.01,242.14L250.26,242.69L250.52,243.28L250.77,243.97L251.03,244.76L251.28,245.63L251.53,246.54L251.79,247.47L252.04,248.39L252.30,249.29L252.55,250.14L252.80,250.97L253.06,251.79L253.31,252.62L253.57,253.46L253.82,254.32L254.07,255.22L254.33,256.17L254.58,257.18L254.84,258.27L255.09,259.50L255.35,260.87L255.60,262.30 M256.2,262.3V143 M256.60,143.00L256.85,152.64L257.10,161.63L257.35,170.11L257.60,177.95L257.85,183.96L258.10,188.86L258.35,192.76L258.60,196.02L258.85,198.84L259.10,201.21L259.36,203.21L259.61,205.04L259.86,206.73L260.11,208.28L260.36,209.69L260.61,210.97L260.86,212.12L261.11,213.13L261.36,214.04L261.61,214.86L261.86,215.61L262.11,216.30L262.36,216.95L262.61,217.58L262.86,218.18L263.11,218.78L263.36,219.40L263.61,220.04L263.86,220.71L264.11,221.39L264.37,222.05L264.62,222.64L264.87,223.12L265.12,223.54L265.37,223.94L265.62,224.31L265.87,224.66L266.12,224.99L266.37,225.31L266.62,225.60L266.87,225.89L267.12,226.17L267.37,226.44L267.62,226.70L267.87,226.97L268.12,227.24L268.37,227.51L268.62,227.79L268.87,228.08L269.12,228.39L269.38,228.71L269.63,229.05L269.88,229.41L270.13,229.78L270.38,230.16L270.63,230.54L270.88,230.92L271.13,231.31L271.38,231.71L271.63,232.12L271.88,232.53L272.13,232.95L272.38,233.38L272.63,233.81L272.88,234.26L273.13,234.71L273.38,235.18L273.63,235.65L273.88,236.13L274.13,236.63L274.39,237.14L274.64,237.65L274.89,238.18L275.14,238.73L275.39,239.29L275.64,239.87L275.89,240.47L276.14,241.08L276.39,241.71L276.64,242.36L276.89,243.03L277.14,243.71L277.39,244.42L277.64,245.14L277.89,245.89L278.14,246.65L278.39,247.44L278.64,248.24L278.89,249.08L279.14,249.96L279.40,250.89L279.65,251.85L279.90,252.85L280.15,253.88L280.40,254.94L280.65,256.04L280.90,257.17L281.15,258.33L281.40,259.58L281.65,260.92L281.90,262.30 M287.5,262.3V143 M291.40,143.00L291.65,145.80L291.90,148.50L292.15,151.11L292.40,153.60L292.65,155.98L292.90,158.23L293.15,160.37L293.40,162.45L293.65,164.43L293.91,166.33L294.16,168.12L294.41,169.80L294.66,171.38L294.91,172.91L295.16,174.38L295.41,175.80L295.66,177.15L295.91,178.43L296.16,179.62L296.41,180.73L296.66,181.74L296.91,182.69L297.16,183.60L297.41,184.47L297.66,185.30L297.91,186.10L298.16,186.86L298.41,187.59L298.66,188.28L298.92,188.94L299.17,189.57L299.42,190.18L299.67,190.75L299.92,191.31L300.17,191.84L300.42,192.37L300.67,192.87L300.92,193.36L301.17,193.83L301.42,194.29L301.67,194.74L301.92,195.17L302.17,195.58L302.42,195.99L302.67,196.37L302.92,196.75L303.17,197.11L303.42,197.46L303.67,197.80L303.93,198.13L304.18,198.45L304.43,198.76L304.68,199.06L304.93,199.36L305.18,199.64L305.43,199.92L305.68,200.19L305.93,200.45L306.18,200.71L306.43,200.95L306.68,201.19L306.93,201.42L307.18,201.65L307.43,201.86L307.68,202.07L307.93,202.27L308.18,202.47L308.43,202.67L308.68,202.86L308.94,203.05L309.19,203.24L309.44,203.43L309.69,203.61L309.94,203.79L310.19,203.96L310.44,204.14L310.69,204.30L310.94,204.47L311.19,204.63L311.44,204.79L311.69,204.95L311.94,205.11L312.19,205.26L312.44,205.41L312.69,205.55L312.94,205.69L313.19,205.83L313.44,205.97L313.69,206.10L313.95,206.23L314.20,206.36L314.45,206.49L314.70,206.61L314.95,206.73L315.20,206.85L315.45,206.96L315.70,207.07L315.95,207.19L316.20,207.30L316.45,207.41L316.70,207.52L316.95,207.63L317.20,207.74L317.45,207.84L317.70,207.94L317.95,208.05L318.20,208.15L318.45,208.25L318.71,208.35L318.96,208.44L319.21,208.54L319.46,208.63L319.71,208.72L319.96,208.81L320.21,208.90L320.46,208.99L320.71,209.07L320.96,209.16L321.21,209.24L321.46,209.32L321.71,209.39L321.96,209.47L322.21,209.54L322.46,209.61L322.71,209.68L322.96,209.75L323.21,209.81L323.46,209.87L323.72,209.93L323.97,209.99L324.22,210.05L324.47,210.10L324.72,210.16L324.97,210.21L325.22,210.27L325.47,210.32L325.72,210.37L325.97,210.42L326.22,210.47L326.47,210.52L326.72,210.57L326.97,210.62L327.22,210.67L327.47,210.72L327.72,210.77L327.97,210.81L328.22,210.86L328.47,210.91L328.73,210.95L328.98,211.00L329.23,211.04L329.48,211.09L329.73,211.13L329.98,211.17L330.23,211.21L330.48,211.25L330.73,211.30L330.98,211.34L331.23,211.38L331.48,211.42L331.73,211.46L331.98,211.50L332.23,211.53L332.48,211.57L332.73,211.61L332.98,211.65L333.23,211.68L333.48,211.72L333.74,211.76L333.99,211.79L334.24,211.83L334.49,211.86L334.74,211.90L334.99,211.93L335.24,211.96L335.49,212.00L335.74,212.03L335.99,212.06L336.24,212.10L336.49,212.13L336.74,212.16L336.99,212.19L337.24,212.22L337.49,212.25L337.74,212.28L337.99,212.31L338.24,212.34L338.49,212.37L338.75,212.40L339.00,212.43L339.25,212.46L339.50,212.49L339.75,212.52L340.00,212.55L340.25,212.58L340.50,212.60L340.75,212.63L341.00,212.66L341.25,212.69L341.50,212.71L341.75,212.74L342.00,212.77L342.25,212.79L342.50,212.82L342.75,212.85L343.00,212.87L343.25,212.90L343.51,212.93L343.76,212.95L344.01,212.98L344.26,213.00L344.51,213.03L344.76,213.05L345.01,213.08L345.26,213.10L345.51,213.13L345.76,213.15L346.01,213.18L346.26,213.20L346.51,213.22L346.76,213.25L347.01,213.27L347.26,213.30L347.51,213.32L347.76,213.34L348.01,213.36L348.26,213.39L348.52,213.41L348.77,213.43L349.02,213.45L349.27,213.48L349.52,213.50L349.77,213.52L350.02,213.54L350.27,213.56L350.52,213.58L350.77,213.60L351.02,213.63L351.27,213.65L351.52,213.67L351.77,213.69L352.02,213.71L352.27,213.73L352.52,213.75L352.77,213.77L353.02,213.79L353.27,213.81L353.53,213.83L353.78,213.84L354.03,213.86L354.28,213.88L354.53,213.90L354.78,213.92L355.03,213.94L355.28,213.95L355.53,213.97L355.78,213.99L356.03,214.01L356.28,214.03L356.53,214.04L356.78,214.06L357.03,214.08L357.28,214.09L357.53,214.11L357.78,214.13L358.03,214.14L358.28,214.16L358.54,214.17L358.79,214.19L359.04,214.21L359.29,214.22L359.54,214.24L359.79,214.25L360.04,214.27L360.29,214.28L360.54,214.30L360.79,214.31L361.04,214.33L361.29,214.34L361.54,214.35L361.79,214.37L362.04,214.38L362.29,214.40L362.54,214.41L362.79,214.43L363.04,214.44L363.29,214.46L363.55,214.47L363.80,214.48L364.05,214.50L364.30,214.51L364.55,214.53L364.80,214.54L365.05,214.55L365.30,214.57L365.55,214.58L365.80,214.60L366.05,214.61L366.30,214.62L366.55,214.64L366.80,214.65L367.05,214.66L367.30,214.68L367.55,214.69L367.80,214.71L368.05,214.72L368.31,214.73L368.56,214.75L368.81,214.76L369.06,214.77L369.31,214.79L369.56,214.80L369.81,214.81L370.06,214.82L370.31,214.84L370.56,214.85L370.81,214.86L371.06,214.88L371.31,214.89L371.56,214.90L371.81,214.91L372.06,214.93L372.31,214.94L372.56,214.95L372.81,214.96L373.06,214.98L373.32,214.99L373.57,215.00L373.82,215.01L374.07,215.02L374.32,215.04L374.57,215.05L374.82,215.06L375.07,215.07L375.32,215.08L375.57,215.09L375.82,215.11L376.07,215.12L376.32,215.13L376.57,215.14L376.82,215.15L377.07,215.16L377.32,215.17L377.57,215.18L377.82,215.19L378.07,215.20L378.33,215.21L378.58,215.23L378.83,215.24L379.08,215.25L379.33,215.26L379.58,215.27L379.83,215.28L380.08,215.29L380.33,215.30L380.58,215.31L380.83,215.32L381.08,215.32L381.33,215.33L381.58,215.34L381.83,215.35L382.08,215.36L382.33,215.37L382.58,215.38L382.83,215.39L383.08,215.40L383.34,215.41L383.59,215.41L383.84,215.42L384.09,215.43L384.34,215.44L384.59,215.45L384.84,215.45L385.09,215.46L385.34,215.47L385.59,215.48L385.84,215.48L386.09,215.49L386.34,215.50L386.59,215.51L386.84,215.51L387.09,215.52L387.34,215.53L387.59,215.53L387.84,215.54L388.09,215.54L388.35,215.55L388.60,215.56L388.85,215.56L389.10,215.57L389.35,215.57L389.60,215.58L389.85,215.58L390.10,215.59L390.35,215.60L390.60,215.60" stroke="#0f0"/>
<path d="M243.40,253.40L243.65,252.37L243.91,251.37L244.16,250.40L244.41,249.47L244.66,248.58L244.92,247.72L245.17,246.91L245.42,246.12L245.68,245.34L245.93,244.58L246.18,243.86L246.43,243.19L246.69,242.61L246.94,242.13L247.19,241.67L247.44,241.27L247.70,241.03L247.95,241.02L248.20,241.15L248.46,241.36L248.71,241.65L248.96,242.26L249.21,243.04L249.47,243.93L249.72,244.99L249.97,246.17L250.22,247.45L250.48,248.81L250.73,250.21L250.98,251.66L251.24,253.20L251.49,254.85L251.74,256.59L251.99,258.41L252.25,260.32L252.50,262.30 M254.3,262.3V143 M254.50,143.00L254.75,161.87L255.00,176.10L255.25,186.23L255.50,193.92L255.75,198.53L256.00,202.13L256.25,205.01L256.50,207.21L256.75,208.79L257.00,210.07L257.25,211.22L257.50,212.25L257.75,213.16L258.00,213.97L258.25,214.69L258.50,215.34L258.75,215.91L259.01,216.43L259.26,216.90L259.51,217.34L259.76,217.74L260.01,218.11L260.26,218.46L260.51,218.79L260.76,219.09L261.01,219.38L261.26,219.66L261.51,219.92L261.76,220.17L262.01,220.42L262.26,220.67L262.51,220.91L262.76,221.16L263.01,221.41L263.26,221.66L263.51,221.91L263.76,222.15L264.01,222.38L264.26,222.60L264.51,222.80L264.76,222.97L265.01,223.14L265.26,223.29L265.51,223.43L265.76,223.57L266.01,223.70L266.26,223.82L266.51,223.94L266.76,224.05L267.01,224.16L267.26,224.27L267.51,224.38L267.77,224.48L268.02,224.59L268.27,224.69L268.52,224.80L268.77,224.91L269.02,225.02L269.27,225.13L269.52,225.25L269.77,225.38L270.02,225.51L270.27,225.64L270.52,225.78L270.77,225.92L271.02,226.06L271.27,226.20L271.52,226.34L271.77,226.49L272.02,226.63L272.27,226.78L272.52,226.93L272.77,227.07L273.02,227.22L273.27,227.38L273.52,227.53L273.77,227.68L274.02,227.84L274.27,227.99L274.52,228.15L274.77,228.31L275.02,228.47L275.27,228.63L275.52,228.79L275.77,228.95L276.02,229.11L276.27,229.28L276.53,229.44L276.78,229.61L277.03,229.77L277.28,229.94L277.53,230.11L277.78,230.27L278.03,230.44L278.28,230.61L278.53,230.78L278.78,230.95L279.03,231.12L279.28,231.29L279.53,231.46L279.78,231.62L280.03,231.79L280.28,231.95L280.53,232.11L280.78,232.28L281.03,232.44L281.28,232.60L281.53,232.77L281.78,232.94L282.03,233.10L282.28,233.27L282.53,233.44L282.78,233.62L283.03,233.79L283.28,233.97L283.53,234.15L283.78,234.33L284.03,234.52L284.28,234.71L284.53,234.91L284.78,235.11L285.03,235.31L285.29,235.52L285.54,235.73L285.79,235.95L286.04,236.18L286.29,236.40L286.54,236.64L286.79,236.88L287.04,237.13L287.29,237.39L287.54,237.65L287.79,237.93L288.04,238.23L288.29,238.53L288.54,238.85L288.79,239.19L289.04,239.53L289.29,239.89L289.54,240.26L289.79,240.64L290.04,241.04L290.29,241.44L290.54,241.86L290.79,242.28L291.04,242.71L291.29,243.16L291.54,243.61L291.79,244.07L292.04,244.56L292.29,245.07L292.54,245.60L292.79,246.16L293.04,246.73L293.29,247.33L293.54,247.94L293.79,248.57L294.05,249.21L294.30,249.87L294.55,250.54L294.80,251.21L295.05,251.90L295.30,252.59L295.55,253.30L295.80,254.02L296.05,254.77L296.30,255.54L296.55,256.33L296.80,257.13L297.05,257.96L297.30,258.80L297.55,259.65L297.80,260.52L298.05,261.40L298.30,262.30 M307.6,262.3V143 M313.20,143.00L313.45,145.05L313.70,147.07L313.95,149.06L314.20,151.01L314.45,152.93L314.70,154.81L314.95,156.66L315.20,158.48L315.45,160.29L315.70,162.06L315.96,163.80L316.21,165.48L316.46,167.10L316.71,168.66L316.96,170.21L317.21,171.76L317.46,173.26L317.71,174.68L317.96,176.01L318.21,177.20L318.46,178.24L318.71,179.18L318.96,180.07L319.21,180.92L319.46,181.72L319.71,182.47L319.96,183.19L320.21,183.88L320.46,184.54L320.71,185.17L320.97,185.78L321.22,186.37L321.47,186.95L321.72,187.51L321.97,188.06L322.22,188.59L322.47,189.11L322.72,189.61L322.97,190.10L323.22,190.57L323.47,191.03L323.72,191.48L323.97,191.91L324.22,192.33L324.47,192.74L324.72,193.13L324.97,193.51L325.22,193.88L325.47,194.23L325.72,194.57L325.97,194.90L326.23,195.21L326.48,195.51L326.73,195.79L326.98,196.07L327.23,196.35L327.48,196.61L327.73,196.87L327.98,197.13L328.23,197.37L328.48,197.62L328.73,197.86L328.98,198.09L329.23,198.32L329.48,198.54L329.73,198.76L329.98,198.98L330.23,199.19L330.48,199.40L330.73,199.61L330.98,199.82L331.23,200.02L331.49,200.22L331.74,200.41L331.99,200.61L332.24,200.80L332.49,200.98L332.74,201.16L332.99,201.33L333.24,201.50L333.49,201.67L333.74,201.82L333.99,201.98L334.24,202.13L334.49,202.28L334.74,202.43L334.99,202.58L335.24,202.72L335.49,202.87L335.74,203.01L335.99,203.15L336.24,203.29L336.50,203.42L336.75,203.56L337.00,203.69L337.25,203.82L337.50,203.94L337.75,204.07L338.00,204.19L338.25,204.31L338.50,204.43L338.75,204.54L339.00,204.65L339.25,204.77L339.50,204.87L339.75,204.98L340.00,205.08L340.25,205.18L340.50,205.28L340.75,205.38L341.00,205.47L341.25,205.56L341.50,205.66L341.76,205.75L342.01,205.84L342.26,205.92L342.51,206.01L342.76,206.10L343.01,206.18L343.26,206.26L343.51,206.35L343.76,206.43L344.01,206.51L344.26,206.59L344.51,206.66L344.76,206.74L345.01,206.82L345.26,206.89L345.51,206.97L345.76,207.04L346.01,207.11L346.26,207.19L346.51,207.26L346.77,207.33L347.02,207.40L347.27,207.47L347.52,207.54L347.77,207.60L348.02,207.67L348.27,207.74L348.52,207.81L348.77,207.87L349.02,207.94L349.27,208.01L349.52,208.07L349.77,208.14L350.02,208.21L350.27,208.27L350.52,208.34L350.77,208.40L351.02,208.47L351.27,208.53L351.52,208.60L351.77,208.66L352.03,208.73L352.28,208.79L352.53,208.85L352.78,208.92L353.03,208.98L353.28,209.04L353.53,209.11L353.78,209.17L354.03,209.23L354.28,209.29L354.53,209.35L354.78,209.41L355.03,209.47L355.28,209.53L355.53,209.59L355.78,209.64L356.03,209.70L356.28,209.76L356.53,209.81L356.78,209.87L357.03,209.92L357.29,209.98L357.54,210.03L357.79,210.08L358.04,210.13L358.29,210.18L358.54,210.23L358.79,210.28L359.04,210.33L359.29,210.37L359.54,210.42L359.79,210.46L360.04,210.51L360.29,210.55L360.54,210.59L360.79,210.63L361.04,210.67L361.29,210.71L361.54,210.75L361.79,210.79L362.04,210.83L362.30,210.87L362.55,210.90L362.80,210.94L363.05,210.98L363.30,211.02L363.55,211.05L363.80,211.09L364.05,211.12L364.30,211.16L364.55,211.19L364.80,211.23L365.05,211.26L365.30,211.30L365.55,211.33L365.80,211.37L366.05,211.40L366.30,211.43L366.55,211.46L366.80,211.50L367.05,211.53L367.30,211.56L367.56,211.59L367.81,211.62L368.06,211.65L368.31,211.68L368.56,211.71L368.81,211.74L369.06,211.77L369.31,211.80L369.56,211.83L369.81,211.86L370.06,211.89L370.31,211.91L370.56,211.94L370.81,211.97L371.06,211.99L371.31,212.02L371.56,212.05L371.81,212.07L372.06,212.10L372.31,212.12L372.57,212.15L372.82,212.17L373.07,212.20L373.32,212.22L373.57,212.24L373.82,212.27L374.07,212.29L374.32,212.31L374.57,212.34L374.82,212.36L375.07,212.38L375.32,212.40L375.57,212.42L375.82,212.44L376.07,212.47L376.32,212.49L376.57,212.51L376.82,212.53L377.07,212.55L377.32,212.57L377.57,212.59L377.83,212.61L378.08,212.63L378.33,212.65L378.58,212.67L378.83,212.69L379.08,212.71L379.33,212.73L379.58,212.75L379.83,212.77L380.08,212.79L380.33,212.81L380.58,212.83L380.83,212.84L381.08,212.86L381.33,212.88L381.58,212.90L381.83,212.92L382.08,212.93L382.33,212.95L382.58,212.97L382.83,212.99L383.09,213.00L383.34,213.02L383.59,213.04L383.84,213.05L384.09,213.07L384.34,213.08L384.59,213.10L384.84,213.12L385.09,213.13L385.34,213.15L385.59,213.16L385.84,213.18L386.09,213.19L386.34,213.20L386.59,213.22L386.84,213.23L387.09,213.24L387.34,213.26L387.59,213.27L387.84,213.28L388.10,213.29L388.35,213.31L388.60,213.32L388.85,213.33L389.10,213.34L389.35,213.35L389.60,213.36L389.85,213.37L390.10,213.38L390.35,213.39L390.60,213.40" stroke="#0ff"/>
</g>
<rect x="330.9" y="146" width="61" height="55.6" fill="#fff"/>
<line x1="334.20" x2="346.40" y1="153.60" y2="153.60" stroke="#ff7f00" stroke-width="1.30"/>
<text transform="translate(351.70,157.28) scale(0.750,1)" font-size="11.0" font-weight="bold" font-style="italic" stroke="#000" stroke-width="0.3">Ω<tspan font-size="8.3" dy="2.2">m0</tspan></text>
<text transform="translate(368.70,157.28) scale(0.580,1)" font-size="11.0" font-weight="bold" font-style="italic" stroke="#000" stroke-width="0.3">=</text>
<text transform="translate(373.80,157.28) scale(0.720,1)" font-size="11.0" font-weight="bold" font-style="italic" stroke="#000" stroke-width="0.3">0.27</text>
<line x1="334.20" x2="346.40" y1="171.90" y2="171.90" stroke="#0f0" stroke-width="1.30"/>
<text transform="translate(351.70,175.59) scale(0.750,1)" font-size="11.0" font-weight="bold" font-style="italic" stroke="#000" stroke-width="0.3">Ω<tspan font-size="8.3" dy="2.2">m0</tspan></text>
<text transform="translate(368.70,175.59) scale(0.580,1)" font-size="11.0" font-weight="bold" font-style="italic" stroke="#000" stroke-width="0.3">=</text>
<text transform="translate(373.80,175.59) scale(0.720,1)" font-size="11.0" font-weight="bold" font-style="italic" stroke="#000" stroke-width="0.3">0.29</text>
<line x1="334.20" x2="346.40" y1="190.50" y2="190.50" stroke="#0ff" stroke-width="1.30"/>
<text transform="translate(351.70,194.19) scale(0.750,1)" font-size="11.0" font-weight="bold" font-style="italic" stroke="#000" stroke-width="0.3">Ω<tspan font-size="8.3" dy="2.2">m0</tspan></text>
<text transform="translate(368.70,194.19) scale(0.580,1)" font-size="11.0" font-weight="bold" font-style="italic" stroke="#000" stroke-width="0.3">=</text>
<text transform="translate(373.80,194.19) scale(0.720,1)" font-size="11.0" font-weight="bold" font-style="italic" stroke="#000" stroke-width="0.3">0.31</text>
<rect x="240.8" y="142.8" width="152.7" height="119.5" fill="none" stroke="#1a1a1a" stroke-width="1.05"/>
<path d="M247.00,262.3v-1.80M247.00,143v1.80M254.17,262.3v-1.10M254.17,143v1.10M261.34,262.3v-1.10M261.34,143v1.10M268.51,262.3v-1.10M268.51,143v1.10M275.68,262.3v-1.10M275.68,143v1.10M282.85,262.3v-1.80M282.85,143v1.80M290.02,262.3v-1.10M290.02,143v1.10M297.19,262.3v-1.10M297.19,143v1.10M304.36,262.3v-1.10M304.36,143v1.10M311.53,262.3v-1.10M311.53,143v1.10M318.70,262.3v-1.80M318.70,143v1.80M325.87,262.3v-1.10M325.87,143v1.10M333.04,262.3v-1.10M333.04,143v1.10M340.21,262.3v-1.10M340.21,143v1.10M347.38,262.3v-1.10M347.38,143v1.10M354.55,262.3v-1.80M354.55,143v1.80M361.72,262.3v-1.10M361.72,143v1.10M368.89,262.3v-1.10M368.89,143v1.10M376.06,262.3v-1.10M376.06,143v1.10M383.23,262.3v-1.10M383.23,143v1.10M390.40,262.3v-1.80M390.40,143v1.80M240.8,262.26h1.80M393.5,262.26h-1.80M240.8,258.28h1.10M393.5,258.28h-1.10M240.8,254.31h1.10M393.5,254.31h-1.10M240.8,250.33h1.10M393.5,250.33h-1.10M240.8,246.36h1.10M393.5,246.36h-1.10M240.8,242.38h1.80M393.5,242.38h-1.80M240.8,238.40h1.10M393.5,238.40h-1.10M240.8,234.43h1.10M393.5,234.43h-1.10M240.8,230.45h1.10M393.5,230.45h-1.10M240.8,226.48h1.10M393.5,226.48h-1.10M240.8,222.50h1.80M393.5,222.50h-1.80M240.8,218.52h1.10M393.5,218.52h-1.10M240.8,214.55h1.10M393.5,214.55h-1.10M240.8,210.57h1.10M393.5,210.57h-1.10M240.8,206.60h1.10M393.5,206.60h-1.10M240.8,202.62h1.80M393.5,202.62h-1.80M240.8,198.64h1.10M393.5,198.64h-1.10M240.8,194.67h1.10M393.5,194.67h-1.10M240.8,190.69h1.10M393.5,190.69h-1.10M240.8,186.72h1.10M393.5,186.72h-1.10M240.8,182.74h1.80M393.5,182.74h-1.80M240.8,178.76h1.10M393.5,178.76h-1.10M240.8,174.79h1.10M393.5,174.79h-1.10M240.8,170.81h1.10M393.5,170.81h-1.10M240.8,166.84h1.10M393.5,166.84h-1.10M240.8,162.86h1.80M393.5,162.86h-1.80M240.8,158.88h1.10M393.5,158.88h-1.10M240.8,154.91h1.10M393.5,154.91h-1.10M240.8,150.93h1.10M393.5,150.93h-1.10M240.8,146.96h1.10M393.5,146.96h-1.10M240.8,142.98h1.80M393.5,142.98h-1.80" stroke="#000" stroke-width="0.8" fill="none"/>
<text transform="translate(247.10,274.80) scale(0.750,1)" text-anchor="middle" font-size="9.5" font-weight="bold" stroke="#000" stroke-width="0.30">0</text>
<text transform="translate(282.95,274.80) scale(0.750,1)" text-anchor="middle" font-size="9.5" font-weight="bold" stroke="#000" stroke-width="0.30">10</text>
<rect x="278.49" y="272.88" width="1.65" height="2.87" fill="#fff"/>
<rect x="282.14" y="272.88" width="1.56" height="2.87" fill="#fff"/>
<text transform="translate(318.80,274.80) scale(0.750,1)" text-anchor="middle" font-size="9.5" font-weight="bold" stroke="#000" stroke-width="0.30">20</text>
<text transform="translate(354.65,274.80) scale(0.750,1)" text-anchor="middle" font-size="9.5" font-weight="bold" stroke="#000" stroke-width="0.30">30</text>
<text transform="translate(390.50,274.80) scale(0.750,1)" text-anchor="middle" font-size="9.5" font-weight="bold" stroke="#000" stroke-width="0.30">40</text>
<text transform="translate(238.00,265.81) scale(0.750,1)" text-anchor="end" font-size="9.5" font-weight="bold" stroke="#000" stroke-width="0.30">2</text>
<rect x="228.9" y="262.41" width="4" height="1.3" fill="#000"/>
<text transform="translate(238.00,245.93) scale(0.750,1)" text-anchor="end" font-size="9.5" font-weight="bold" stroke="#000" stroke-width="0.30">1</text>
<rect x="233.54" y="244.01" width="1.65" height="2.87" fill="#fff"/>
<rect x="237.19" y="244.01" width="1.56" height="2.87" fill="#fff"/>
<rect x="228.9" y="242.53" width="4" height="1.3" fill="#000"/>
<text transform="translate(238.00,226.05) scale(0.750,1)" text-anchor="end" font-size="9.5" font-weight="bold" stroke="#000" stroke-width="0.30">0</text>
<text transform="translate(238.00,206.17) scale(0.750,1)" text-anchor="end" font-size="9.5" font-weight="bold" stroke="#000" stroke-width="0.30">1</text>
<rect x="233.54" y="204.25" width="1.65" height="2.87" fill="#fff"/>
<rect x="237.19" y="204.25" width="1.56" height="2.87" fill="#fff"/>
<text transform="translate(238.00,186.29) scale(0.750,1)" text-anchor="end" font-size="9.5" font-weight="bold" stroke="#000" stroke-width="0.30">2</text>
<text transform="translate(238.00,166.41) scale(0.750,1)" text-anchor="end" font-size="9.5" font-weight="bold" stroke="#000" stroke-width="0.30">3</text>
<text transform="translate(238.00,146.53) scale(0.750,1)" text-anchor="end" font-size="9.5" font-weight="bold" stroke="#000" stroke-width="0.30">4</text>
</svg></body></html>
